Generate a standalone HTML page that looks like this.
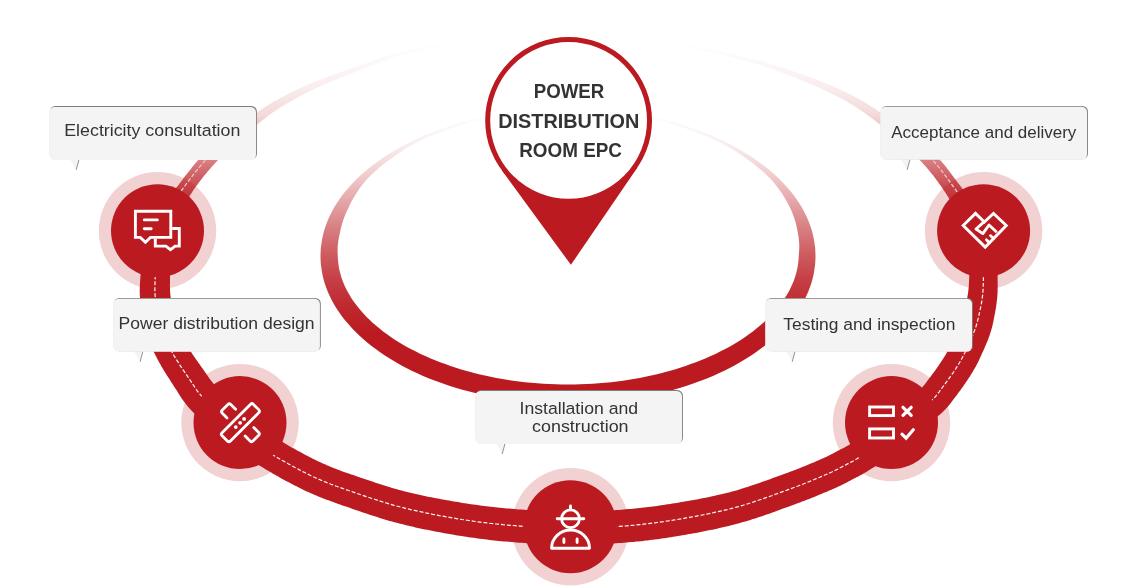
<!DOCTYPE html>
<html lang="en"><head><meta charset="utf-8"><title>Power Distribution Room EPC</title>
<style>html,body{margin:0;padding:0;background:#fff;overflow:hidden}</style></head>
<body>
<svg width="1139" height="587" viewBox="0 0 1139 587" style="display:block;will-change:transform;font-family:'Liberation Sans',sans-serif">
<defs>
<linearGradient id="gi" gradientUnits="userSpaceOnUse" x1="0" y1="110" x2="0" y2="335"><stop offset="0.000" stop-color="#BA1A20" stop-opacity="0"/><stop offset="0.111" stop-color="#BA1A20" stop-opacity="0.05"/><stop offset="0.178" stop-color="#BA1A20" stop-opacity="0.1"/><stop offset="0.289" stop-color="#BA1A20" stop-opacity="0.22"/><stop offset="0.400" stop-color="#BA1A20" stop-opacity="0.38"/><stop offset="0.511" stop-color="#BA1A20" stop-opacity="0.54"/><stop offset="0.631" stop-color="#BA1A20" stop-opacity="0.7"/><stop offset="0.756" stop-color="#BA1A20" stop-opacity="0.84"/><stop offset="0.867" stop-color="#BA1A20" stop-opacity="0.93"/><stop offset="1.000" stop-color="#BA1A20" stop-opacity="1.0"/></linearGradient>
<linearGradient id="gl" gradientUnits="userSpaceOnUse" x1="0" y1="42" x2="0" y2="225"><stop offset="0" stop-color="#BA1A20" stop-opacity="0"/><stop offset="0.12" stop-color="#BA1A20" stop-opacity="0.035"/><stop offset="0.25" stop-color="#BA1A20" stop-opacity="0.08"/><stop offset="0.4" stop-color="#BA1A20" stop-opacity="0.17"/><stop offset="0.6" stop-color="#BA1A20" stop-opacity="0.48"/><stop offset="0.8" stop-color="#BA1A20" stop-opacity="0.8"/><stop offset="1" stop-color="#BA1A20" stop-opacity="1"/></linearGradient>
<linearGradient id="gr" gradientUnits="userSpaceOnUse" x1="0" y1="42" x2="0" y2="225"><stop offset="0" stop-color="#BA1A20" stop-opacity="0"/><stop offset="0.12" stop-color="#BA1A20" stop-opacity="0.035"/><stop offset="0.25" stop-color="#BA1A20" stop-opacity="0.08"/><stop offset="0.4" stop-color="#BA1A20" stop-opacity="0.17"/><stop offset="0.6" stop-color="#BA1A20" stop-opacity="0.48"/><stop offset="0.8" stop-color="#BA1A20" stop-opacity="0.8"/><stop offset="1" stop-color="#BA1A20" stop-opacity="1"/></linearGradient>
<linearGradient id="gdl" gradientUnits="userSpaceOnUse" x1="0" y1="42" x2="0" y2="225"><stop offset="0" stop-color="#fff" stop-opacity="0"/><stop offset="0.12" stop-color="#fff" stop-opacity="0.035"/><stop offset="0.25" stop-color="#fff" stop-opacity="0.08"/><stop offset="0.4" stop-color="#fff" stop-opacity="0.17"/><stop offset="0.6" stop-color="#fff" stop-opacity="0.48"/><stop offset="0.8" stop-color="#fff" stop-opacity="0.8"/><stop offset="1" stop-color="#fff" stop-opacity="1"/></linearGradient>
</defs>
<rect width="1139" height="587" fill="#fff"/>
<path d="M815.5,256.0 L815.4,259.9 L815.2,263.7 L814.7,267.6 L814.1,271.5 L813.4,275.3 L812.5,279.1 L811.4,283.0 L810.1,286.8 L808.7,290.5 L807.1,294.3 L805.3,298.0 L803.4,301.7 L801.3,305.4 L799.1,309.0 L796.7,312.6 L794.1,316.2 L791.4,319.7 L788.5,323.1 L785.5,326.6 L782.3,329.9 L779.0,333.3 L775.6,336.6 L772.0,339.8 L768.2,342.9 L764.4,346.0 L760.3,349.1 L756.2,352.1 L751.9,355.0 L747.5,357.8 L743.0,360.6 L738.4,363.3 L733.6,365.9 L728.7,368.5 L723.8,370.9 L718.7,373.3 L713.5,375.7 L708.2,377.9 L702.8,380.0 L697.3,382.1 L691.8,384.1 L686.1,386.0 L680.4,387.8 L674.6,389.5 L668.7,391.1 L662.7,392.6 L656.7,394.1 L650.6,395.4 L644.5,396.7 L638.3,397.8 L632.1,398.9 L625.8,399.8 L619.5,400.7 L613.1,401.4 L606.7,402.1 L600.3,402.6 L593.9,403.1 L587.4,403.4 L581.0,403.7 L574.5,403.8 L568.0,403.9 L561.5,403.8 L555.0,403.7 L548.6,403.4 L542.1,403.1 L535.7,402.6 L529.3,402.1 L522.9,401.4 L516.5,400.7 L510.2,399.8 L503.9,398.9 L497.7,397.8 L491.5,396.7 L485.4,395.4 L479.3,394.1 L473.3,392.6 L467.3,391.1 L461.4,389.5 L455.6,387.8 L449.9,386.0 L444.3,384.1 L438.7,382.1 L433.2,380.0 L427.8,377.9 L422.5,375.7 L417.3,373.3 L412.2,370.9 L407.3,368.5 L402.4,365.9 L397.6,363.3 L393.0,360.6 L388.5,357.8 L384.1,355.0 L379.8,352.1 L375.7,349.1 L371.6,346.0 L367.8,342.9 L364.0,339.8 L360.4,336.6 L357.0,333.3 L353.7,329.9 L350.5,326.6 L347.5,323.1 L344.6,319.7 L341.9,316.2 L339.3,312.6 L336.9,309.0 L334.7,305.4 L332.6,301.7 L330.7,298.0 L328.9,294.3 L327.3,290.5 L325.9,286.8 L324.6,283.0 L323.5,279.1 L322.6,275.3 L321.9,271.5 L321.3,267.6 L320.8,263.7 L320.6,259.9 L320.5,256.0 L320.6,252.1 L320.8,248.3 L321.3,244.4 L321.9,240.5 L322.6,236.7 L323.5,232.9 L324.6,229.0 L325.9,225.2 L327.3,221.5 L328.9,217.7 L330.7,214.0 L332.6,210.3 L334.7,206.6 L336.9,203.0 L339.3,199.4 L341.9,195.8 L344.6,192.3 L347.5,188.9 L350.5,185.4 L353.7,182.1 L357.0,178.7 L360.4,175.4 L364.0,172.2 L367.8,169.1 L371.6,166.0 L375.7,162.9 L379.8,159.9 L384.1,157.0 L388.5,154.2 L393.0,151.4 L397.6,148.7 L402.4,146.1 L407.3,143.5 L412.2,141.1 L417.3,138.7 L422.5,136.3 L427.8,134.1 L433.2,132.0 L438.7,129.9 L444.2,127.9 L449.9,126.0 L455.6,124.2 L461.4,122.5 L467.3,120.9 L473.3,119.4 L479.3,117.9 L485.4,116.6 L491.5,115.3 L497.7,114.2 L503.9,113.1 L510.2,112.2 L516.5,111.3 L522.9,110.6 L529.3,109.9 L535.7,109.4 L542.1,108.9 L548.6,108.6 L555.0,108.3 L561.5,108.2 L568.0,108.1 L574.5,108.2 L581.0,108.3 L587.4,108.6 L593.9,108.9 L600.3,109.4 L606.7,109.9 L613.1,110.6 L619.5,111.3 L625.8,112.2 L632.1,113.1 L638.3,114.2 L644.5,115.3 L650.6,116.6 L656.7,117.9 L662.7,119.4 L668.7,120.9 L674.6,122.5 L680.4,124.2 L686.1,126.0 L691.8,127.9 L697.3,129.9 L702.8,132.0 L708.2,134.1 L713.5,136.3 L718.7,138.7 L723.8,141.1 L728.7,143.5 L733.6,146.1 L738.4,148.7 L743.0,151.4 L747.5,154.2 L751.9,157.0 L756.2,159.9 L760.3,162.9 L764.4,166.0 L768.2,169.1 L772.0,172.2 L775.6,175.4 L779.0,178.7 L782.3,182.1 L785.5,185.4 L788.5,188.9 L791.4,192.3 L794.1,195.8 L796.7,199.4 L799.1,203.0 L801.3,206.6 L803.4,210.3 L805.3,214.0 L807.1,217.7 L808.7,221.5 L810.1,225.2 L811.4,229.0 L812.5,232.9 L813.4,236.7 L814.1,240.5 L814.7,244.4 L815.2,248.3 L815.4,252.1Z M799.0,252.8 L799.2,249.7 L799.3,246.4 L799.2,243.2 L798.9,239.9 L798.5,236.6 L797.9,233.2 L797.3,229.8 L796.6,226.3 L795.7,222.8 L794.6,219.3 L793.4,215.7 L792.0,212.1 L790.4,208.5 L788.7,204.9 L786.7,201.3 L784.6,197.7 L782.4,194.1 L779.9,190.5 L777.3,186.9 L774.5,183.4 L771.5,179.8 L768.2,176.5 L764.8,173.3 L761.1,170.1 L757.4,166.9 L753.5,163.8 L749.4,160.8 L745.3,157.8 L741.0,154.9 L736.5,152.0 L731.9,149.2 L727.2,146.5 L722.4,143.8 L717.5,141.3 L712.4,138.9 L707.2,136.6 L701.8,134.4 L696.4,132.3 L690.9,130.3 L685.3,128.3 L679.7,126.5 L673.9,124.7 L668.1,123.0 L662.2,121.4 L656.2,119.9 L650.2,118.5 L644.1,117.3 L638.0,116.1 L631.8,115.0 L625.5,114.0 L619.2,113.2 L612.9,112.4 L606.5,111.7 L600.2,111.1 L593.8,110.6 L587.3,110.2 L580.9,110.0 L574.5,109.8 L568.0,109.7 L561.5,109.8 L555.1,110.0 L548.7,110.2 L542.2,110.6 L535.8,111.1 L529.5,111.7 L523.1,112.4 L516.8,113.2 L510.5,114.0 L504.2,115.0 L498.0,116.1 L491.9,117.3 L485.8,118.5 L479.8,119.9 L473.8,121.5 L467.9,123.1 L462.1,124.8 L456.4,126.6 L450.7,128.5 L445.1,130.4 L439.6,132.5 L434.2,134.6 L428.9,136.8 L423.7,139.1 L418.6,141.5 L413.7,144.1 L408.9,146.8 L404.3,149.6 L399.8,152.5 L395.4,155.5 L391.2,158.5 L387.0,161.5 L383.1,164.6 L379.2,167.8 L375.6,171.0 L372.0,174.2 L368.6,177.5 L365.4,180.9 L362.5,184.4 L359.9,188.1 L357.4,191.7 L355.1,195.3 L352.9,199.0 L350.9,202.6 L349.2,206.2 L347.5,209.8 L345.9,213.3 L344.5,216.7 L343.2,220.2 L342.1,223.6 L341.2,227.0 L340.4,230.4 L339.7,233.7 L339.0,237.0 L338.4,240.2 L338.0,243.4 L337.7,246.6 L337.6,249.7 L337.6,252.9 L337.8,256.0 L337.9,259.1 L338.2,262.2 L338.6,265.3 L339.1,268.4 L339.8,271.5 L340.6,274.6 L341.5,277.7 L342.6,280.8 L343.9,283.9 L345.2,287.0 L346.7,290.1 L348.4,293.1 L350.2,296.2 L352.1,299.2 L354.2,302.3 L356.5,305.3 L358.9,308.3 L361.4,311.3 L364.1,314.2 L366.9,317.2 L369.8,320.1 L372.9,323.0 L376.2,325.8 L379.6,328.6 L383.1,331.4 L386.7,334.1 L390.5,336.7 L394.4,339.4 L398.5,341.9 L402.6,344.4 L406.9,346.9 L411.3,349.3 L415.9,351.6 L420.5,353.9 L425.3,356.1 L430.1,358.2 L435.1,360.2 L440.1,362.2 L445.3,364.1 L450.5,365.9 L455.8,367.7 L461.2,369.4 L466.7,371.0 L472.3,372.5 L477.9,374.0 L483.6,375.3 L489.4,376.6 L495.2,377.7 L501.1,378.8 L507.0,379.8 L513.0,380.7 L519.0,381.5 L525.0,382.2 L531.1,382.8 L537.2,383.3 L543.3,383.8 L549.5,384.1 L555.7,384.3 L561.8,384.5 L568.0,384.5 L574.2,384.5 L580.3,384.3 L586.5,384.1 L592.7,383.8 L598.8,383.3 L604.9,382.8 L611.0,382.2 L617.0,381.5 L623.0,380.7 L629.0,379.8 L634.9,378.8 L640.8,377.7 L646.6,376.6 L652.4,375.3 L658.1,374.0 L663.7,372.5 L669.3,371.0 L674.8,369.4 L680.2,367.7 L685.5,365.9 L690.7,364.1 L695.9,362.2 L700.9,360.2 L705.9,358.2 L710.7,356.1 L715.5,353.9 L720.1,351.6 L724.7,349.3 L729.1,346.9 L733.4,344.4 L737.5,341.9 L741.6,339.4 L745.5,336.7 L749.3,334.1 L752.9,331.4 L756.4,328.6 L759.8,325.8 L763.1,323.0 L766.2,320.1 L769.1,317.2 L771.9,314.3 L774.6,311.3 L777.2,308.3 L779.6,305.4 L781.9,302.3 L784.0,299.3 L786.0,296.3 L787.8,293.2 L789.5,290.2 L791.0,287.1 L792.4,284.0 L793.7,280.9 L794.8,277.8 L795.7,274.7 L796.6,271.6 L797.3,268.5 L797.8,265.4 L798.3,262.3 L798.6,259.1 L798.7,256.0Z" fill="url(#gi)" fill-rule="evenodd"/>
<circle cx="157.5" cy="230.7" r="58.7" fill="#BA1A20" fill-opacity="0.2"/>
<circle cx="240.0" cy="422.6" r="58.7" fill="#BA1A20" fill-opacity="0.2"/>
<circle cx="570.4" cy="526.7" r="58.7" fill="#BA1A20" fill-opacity="0.2"/>
<circle cx="891.5" cy="422.6" r="58.7" fill="#BA1A20" fill-opacity="0.2"/>
<circle cx="983.6" cy="230.7" r="58.7" fill="#BA1A20" fill-opacity="0.2"/>
<path d="M486.5,39.2 L485.9,39.3 L485.3,39.3 L484.7,39.4 L484.1,39.5 L483.6,39.5 L483.0,39.6 L482.5,39.6 L482.0,39.7 L481.5,39.7 L480.9,39.8 L480.4,39.9 L479.8,39.9 L479.3,40.0 L478.7,40.0 L478.1,40.1 L477.4,40.2 L476.7,40.2 L476.0,40.3 L475.2,40.4 L474.4,40.5 L473.5,40.6 L472.6,40.7 L471.6,40.8 L470.5,41.0 L469.4,41.1 L468.2,41.2 L466.9,41.4 L465.6,41.5 L464.2,41.7 L462.8,41.8 L461.3,42.0 L459.8,42.1 L458.2,42.3 L456.6,42.5 L455.0,42.6 L453.3,42.8 L451.7,43.0 L450.0,43.2 L448.3,43.4 L446.6,43.6 L445.0,43.8 L443.3,44.0 L441.6,44.2 L439.9,44.5 L438.3,44.7 L436.7,44.9 L435.1,45.2 L433.5,45.4 L432.0,45.7 L430.4,45.9 L428.9,46.2 L427.4,46.4 L425.8,46.7 L424.3,46.9 L422.8,47.2 L421.2,47.5 L419.7,47.8 L418.2,48.0 L416.6,48.3 L415.1,48.6 L413.5,48.9 L412.0,49.2 L410.5,49.6 L408.9,49.9 L407.4,50.2 L405.8,50.6 L404.3,50.9 L402.7,51.3 L401.1,51.7 L399.6,52.1 L398.0,52.5 L396.4,52.9 L394.9,53.4 L393.2,53.8 L391.6,54.3 L390.0,54.8 L388.3,55.3 L386.7,55.9 L385.0,56.4 L383.4,57.0 L381.7,57.6 L380.0,58.1 L378.4,58.7 L376.7,59.3 L375.1,59.9 L373.4,60.5 L371.8,61.1 L370.2,61.7 L368.6,62.2 L367.1,62.8 L365.5,63.4 L364.0,63.9 L362.5,64.4 L361.1,65.0 L359.7,65.5 L358.3,65.9 L357.0,66.4 L355.7,66.9 L354.4,67.3 L353.1,67.7 L351.9,68.2 L350.7,68.6 L349.5,69.0 L348.4,69.4 L347.2,69.8 L346.1,70.2 L345.0,70.5 L343.9,70.9 L342.8,71.3 L341.7,71.7 L340.7,72.1 L339.6,72.5 L338.5,72.8 L337.4,73.2 L336.3,73.6 L335.2,74.0 L334.1,74.4 L333.0,74.8 L331.9,75.3 L330.8,75.7 L329.6,76.1 L328.5,76.6 L327.3,77.0 L326.2,77.4 L325.0,77.9 L323.9,78.3 L322.7,78.7 L321.6,79.2 L320.4,79.6 L319.3,80.1 L318.1,80.5 L316.9,80.9 L315.8,81.4 L314.6,81.9 L313.5,82.3 L312.3,82.8 L311.1,83.3 L310.0,83.8 L308.8,84.2 L307.7,84.7 L306.5,85.2 L305.3,85.7 L304.2,86.3 L303.0,86.8 L301.8,87.3 L300.7,87.9 L299.5,88.4 L298.3,89.0 L297.1,89.6 L295.9,90.1 L294.7,90.7 L293.5,91.3 L292.3,91.9 L291.1,92.5 L289.9,93.1 L288.7,93.7 L287.5,94.3 L286.3,95.0 L285.1,95.6 L284.0,96.2 L282.8,96.8 L281.7,97.4 L280.6,98.0 L279.5,98.6 L278.4,99.2 L277.3,99.8 L276.2,100.4 L275.2,101.0 L274.2,101.6 L273.2,102.1 L272.2,102.7 L271.3,103.2 L270.4,103.8 L269.5,104.3 L268.6,104.8 L267.8,105.4 L266.9,105.9 L266.1,106.4 L265.3,107.0 L264.4,107.5 L263.6,108.0 L262.8,108.6 L261.9,109.1 L261.1,109.7 L260.3,110.2 L259.4,110.8 L258.5,111.4 L257.7,112.0 L256.8,112.6 L255.8,113.2 L254.9,113.9 L253.9,114.6 L252.9,115.2 L251.9,115.9 L250.8,116.6 L249.7,117.4 L248.7,118.1 L247.5,118.9 L246.4,119.6 L245.3,120.4 L244.2,121.2 L243.0,122.0 L241.8,122.8 L240.7,123.6 L239.5,124.4 L238.3,125.3 L237.2,126.1 L236.0,126.9 L234.8,127.8 L233.7,128.6 L232.5,129.5 L231.4,130.3 L230.3,131.2 L229.1,132.0 L228.0,132.9 L226.9,133.7 L225.9,134.6 L224.8,135.4 L223.8,136.3 L222.7,137.1 L221.7,138.0 L220.6,138.8 L219.6,139.7 L218.5,140.6 L217.5,141.5 L216.4,142.3 L215.4,143.2 L214.4,144.1 L213.4,145.0 L212.3,145.9 L211.3,146.8 L210.3,147.7 L209.3,148.6 L208.3,149.5 L207.4,150.5 L206.4,151.4 L205.4,152.3 L204.5,153.3 L203.5,154.3 L202.6,155.2 L201.6,156.2 L200.7,157.2 L199.8,158.2 L198.9,159.2 L198.0,160.2 L197.1,161.2 L196.3,162.2 L195.4,163.2 L194.5,164.2 L193.7,165.3 L192.9,166.3 L192.0,167.3 L191.2,168.4 L190.4,169.4 L189.6,170.4 L188.8,171.5 L188.0,172.5 L187.2,173.5 L186.4,174.6 L185.6,175.6 L184.8,176.6 L184.0,177.6 L183.2,178.6 L182.5,179.7 L181.7,180.7 L180.9,181.7 L180.1,182.8 L179.3,183.8 L178.5,184.9 L177.6,185.9 L176.8,187.0 L176.1,188.1 L175.3,189.1 L174.5,190.2 L173.7,191.3 L172.9,192.3 L172.1,193.4 L171.4,194.4 L170.6,195.5 L169.9,196.5 L169.1,197.5 L168.4,198.6 L167.7,199.6 L167.0,200.6 L166.3,201.6 L165.6,202.5 L164.9,203.5 L164.3,204.4 L163.6,205.3 L179.3,214.5 L179.7,213.6 L180.2,212.6 L180.7,211.7 L181.2,210.7 L181.7,209.7 L182.3,208.7 L182.8,207.6 L183.4,206.6 L184.0,205.5 L184.6,204.5 L185.2,203.4 L185.8,202.3 L186.4,201.3 L187.1,200.2 L187.7,199.1 L188.4,198.0 L189.0,196.9 L189.7,195.9 L190.4,194.8 L191.1,193.7 L191.8,192.7 L192.5,191.6 L193.1,190.6 L193.8,189.6 L194.5,188.5 L195.3,187.5 L196.0,186.5 L196.7,185.5 L197.4,184.5 L198.2,183.5 L198.9,182.5 L199.7,181.5 L200.4,180.5 L201.2,179.5 L202.0,178.5 L202.8,177.5 L203.5,176.6 L204.3,175.6 L205.1,174.6 L205.9,173.7 L206.7,172.7 L207.5,171.8 L208.3,170.8 L209.1,169.9 L209.9,168.9 L210.8,168.0 L211.6,167.0 L212.4,166.1 L213.2,165.2 L214.1,164.2 L214.9,163.3 L215.8,162.4 L216.6,161.5 L217.5,160.5 L218.4,159.6 L219.2,158.7 L220.1,157.8 L221.0,156.9 L221.9,155.9 L222.8,155.0 L223.7,154.1 L224.6,153.2 L225.6,152.3 L226.5,151.4 L227.4,150.5 L228.4,149.6 L229.3,148.7 L230.2,147.8 L231.2,146.9 L232.2,146.0 L233.1,145.1 L234.1,144.2 L235.1,143.3 L236.0,142.4 L237.0,141.5 L238.0,140.6 L239.0,139.7 L240.0,138.8 L241.1,137.9 L242.1,137.0 L243.2,136.0 L244.2,135.1 L245.3,134.2 L246.4,133.3 L247.4,132.4 L248.5,131.5 L249.6,130.7 L250.6,129.8 L251.7,128.9 L252.7,128.1 L253.8,127.2 L254.8,126.4 L255.8,125.6 L256.8,124.8 L257.8,124.0 L258.8,123.2 L259.7,122.4 L260.6,121.7 L261.5,121.0 L262.4,120.3 L263.2,119.6 L264.1,119.0 L264.9,118.4 L265.7,117.7 L266.5,117.1 L267.2,116.5 L268.0,116.0 L268.7,115.4 L269.5,114.8 L270.3,114.3 L271.0,113.7 L271.8,113.2 L272.6,112.6 L273.3,112.0 L274.1,111.5 L275.0,110.9 L275.8,110.4 L276.7,109.8 L277.6,109.2 L278.5,108.6 L279.4,108.0 L280.4,107.4 L281.4,106.8 L282.4,106.2 L283.4,105.5 L284.5,104.9 L285.6,104.2 L286.6,103.6 L287.7,103.0 L288.9,102.3 L290.0,101.7 L291.1,101.0 L292.3,100.4 L293.4,99.7 L294.6,99.1 L295.7,98.4 L296.9,97.8 L298.0,97.2 L299.2,96.6 L300.3,96.0 L301.5,95.3 L302.6,94.7 L303.8,94.2 L304.9,93.6 L306.0,93.0 L307.1,92.5 L308.2,91.9 L309.3,91.4 L310.4,90.8 L311.5,90.3 L312.6,89.8 L313.8,89.2 L314.9,88.7 L316.0,88.2 L317.1,87.7 L318.2,87.2 L319.3,86.7 L320.5,86.2 L321.6,85.7 L322.7,85.2 L323.8,84.7 L325.0,84.3 L326.1,83.8 L327.2,83.3 L328.3,82.8 L329.5,82.3 L330.6,81.9 L331.7,81.4 L332.8,80.9 L334.0,80.4 L335.0,80.0 L336.1,79.5 L337.2,79.1 L338.3,78.7 L339.3,78.2 L340.4,77.8 L341.4,77.4 L342.5,77.0 L343.5,76.5 L344.6,76.1 L345.7,75.7 L346.8,75.3 L347.8,74.9 L348.9,74.5 L350.1,74.0 L351.2,73.6 L352.4,73.1 L353.6,72.7 L354.8,72.2 L356.0,71.8 L357.3,71.3 L358.6,70.8 L359.9,70.3 L361.3,69.7 L362.7,69.2 L364.1,68.6 L365.6,68.0 L367.1,67.4 L368.6,66.8 L370.1,66.2 L371.7,65.6 L373.3,64.9 L374.9,64.3 L376.5,63.7 L378.1,63.0 L379.7,62.4 L381.4,61.7 L383.0,61.1 L384.6,60.5 L386.2,59.9 L387.9,59.3 L389.5,58.7 L391.1,58.1 L392.7,57.6 L394.3,57.1 L395.8,56.6 L397.4,56.1 L398.9,55.6 L400.4,55.2 L402.0,54.7 L403.5,54.3 L405.0,53.9 L406.5,53.5 L408.0,53.1 L409.6,52.7 L411.1,52.4 L412.6,52.0 L414.1,51.6 L415.6,51.3 L417.2,51.0 L418.7,50.6 L420.2,50.3 L421.7,50.0 L423.2,49.7 L424.7,49.4 L426.3,49.1 L427.8,48.8 L429.3,48.5 L430.8,48.2 L432.4,47.9 L433.9,47.6 L435.4,47.3 L437.0,47.0 L438.6,46.7 L440.2,46.5 L441.9,46.2 L443.5,46.0 L445.2,45.7 L446.9,45.4 L448.6,45.2 L450.2,45.0 L451.9,44.7 L453.6,44.5 L455.2,44.3 L456.8,44.1 L458.4,43.9 L459.9,43.7 L461.5,43.5 L462.9,43.3 L464.4,43.1 L465.7,42.9 L467.1,42.7 L468.3,42.6 L469.5,42.4 L470.7,42.2 L471.7,42.1 L472.7,42.0 L473.7,41.8 L474.6,41.7 L475.4,41.6 L476.1,41.5 L476.9,41.4 L477.5,41.3 L478.2,41.2 L478.8,41.2 L479.4,41.1 L480.0,41.0 L480.5,40.9 L481.1,40.9 L481.6,40.8 L482.1,40.8 L482.6,40.7 L483.1,40.6 L483.7,40.6 L484.2,40.5 L484.8,40.4 L485.4,40.4 L486.0,40.3 L486.7,40.2Z" fill="url(#gl)"/>
<path d="M979.8,213.3 L979.1,212.1 L978.3,210.9 L977.5,209.7 L976.7,208.5 L975.9,207.3 L975.0,206.0 L974.1,204.8 L973.2,203.5 L972.3,202.2 L971.4,200.9 L970.4,199.6 L969.5,198.2 L968.5,196.9 L967.6,195.6 L966.6,194.3 L965.6,193.0 L964.6,191.7 L963.7,190.4 L962.7,189.1 L961.8,187.8 L960.8,186.5 L959.9,185.3 L958.9,184.1 L958.0,182.9 L957.1,181.7 L956.3,180.5 L955.4,179.4 L954.5,178.2 L953.6,177.0 L952.8,175.9 L951.9,174.7 L951.0,173.5 L950.1,172.4 L949.3,171.2 L948.4,170.1 L947.5,168.9 L946.6,167.8 L945.7,166.6 L944.8,165.5 L943.9,164.3 L942.9,163.2 L942.0,162.1 L941.0,161.0 L940.0,159.9 L939.1,158.7 L938.0,157.7 L937.0,156.6 L936.0,155.5 L934.9,154.4 L933.9,153.4 L932.8,152.3 L931.7,151.3 L930.6,150.3 L929.5,149.3 L928.3,148.3 L927.2,147.3 L926.1,146.3 L924.9,145.3 L923.8,144.4 L922.6,143.4 L921.5,142.5 L920.3,141.6 L919.2,140.7 L918.0,139.7 L916.9,138.8 L915.8,137.9 L914.6,137.1 L913.5,136.2 L912.4,135.3 L911.2,134.4 L910.1,133.6 L909.0,132.7 L907.9,131.8 L906.8,131.0 L905.7,130.1 L904.5,129.3 L903.4,128.4 L902.3,127.6 L901.2,126.8 L900.1,126.0 L898.9,125.1 L897.8,124.3 L896.7,123.5 L895.6,122.7 L894.5,121.9 L893.3,121.1 L892.2,120.4 L891.1,119.6 L890.0,118.8 L888.8,118.0 L887.7,117.2 L886.6,116.5 L885.4,115.7 L884.3,114.9 L883.1,114.2 L882.0,113.4 L880.8,112.7 L879.7,111.9 L878.5,111.2 L877.4,110.4 L876.2,109.6 L875.1,108.9 L873.9,108.1 L872.7,107.4 L871.5,106.7 L870.4,105.9 L869.2,105.2 L868.0,104.5 L866.8,103.7 L865.6,103.0 L864.5,102.3 L863.3,101.6 L862.1,100.9 L860.9,100.2 L859.7,99.5 L858.5,98.8 L857.4,98.2 L856.2,97.5 L855.0,96.9 L853.8,96.2 L852.6,95.6 L851.5,95.0 L850.3,94.4 L849.1,93.8 L847.9,93.2 L846.8,92.6 L845.6,92.1 L844.4,91.5 L843.3,90.9 L842.1,90.4 L840.9,89.9 L839.8,89.3 L838.6,88.8 L837.4,88.3 L836.3,87.8 L835.1,87.3 L834.0,86.8 L832.8,86.3 L831.7,85.8 L830.5,85.3 L829.3,84.8 L828.2,84.3 L827.0,83.8 L825.9,83.3 L824.7,82.9 L823.6,82.4 L822.4,81.9 L821.3,81.5 L820.1,81.0 L819.0,80.5 L817.8,80.1 L816.7,79.7 L815.5,79.2 L814.3,78.8 L813.2,78.3 L812.0,77.9 L810.9,77.5 L809.7,77.1 L808.6,76.7 L807.5,76.2 L806.3,75.8 L805.2,75.4 L804.0,75.0 L802.9,74.6 L801.7,74.2 L800.6,73.8 L799.4,73.4 L798.3,73.0 L797.1,72.6 L796.0,72.2 L794.9,71.8 L793.7,71.4 L792.6,71.0 L791.5,70.6 L790.3,70.2 L789.2,69.8 L788.1,69.4 L786.9,69.0 L785.8,68.6 L784.7,68.2 L783.5,67.9 L782.4,67.5 L781.3,67.1 L780.1,66.7 L779.0,66.4 L777.8,66.0 L776.6,65.6 L775.5,65.3 L774.3,64.9 L773.1,64.5 L771.9,64.2 L770.7,63.8 L769.5,63.5 L768.3,63.1 L767.1,62.8 L765.9,62.4 L764.7,62.1 L763.5,61.7 L762.3,61.4 L761.1,61.0 L759.8,60.7 L758.6,60.4 L757.4,60.1 L756.2,59.7 L754.9,59.4 L753.7,59.1 L752.4,58.7 L751.1,58.4 L749.8,58.1 L748.5,57.8 L747.2,57.5 L745.9,57.1 L744.5,56.8 L743.2,56.5 L741.8,56.2 L740.4,55.8 L739.0,55.5 L737.5,55.2 L736.1,54.9 L734.6,54.6 L733.1,54.2 L731.6,53.9 L730.0,53.6 L728.5,53.3 L726.9,53.0 L725.3,52.7 L723.8,52.4 L722.2,52.0 L720.6,51.7 L719.0,51.4 L717.4,51.1 L715.8,50.8 L714.2,50.5 L712.6,50.2 L711.0,49.9 L709.4,49.6 L707.9,49.3 L706.3,49.0 L704.8,48.7 L703.2,48.4 L701.7,48.1 L700.1,47.8 L698.5,47.4 L696.9,47.1 L695.3,46.8 L693.7,46.5 L692.1,46.1 L690.4,45.8 L688.8,45.5 L687.2,45.2 L685.5,44.8 L683.9,44.5 L682.3,44.2 L680.8,43.9 L679.2,43.6 L677.7,43.3 L676.2,43.0 L674.8,42.7 L673.4,42.5 L672.0,42.2 L670.7,42.0 L669.5,41.8 L668.3,41.6 L667.1,41.4 L666.0,41.2 L665.0,41.0 L664.1,40.9 L663.2,40.8 L662.3,40.6 L661.5,40.5 L660.7,40.4 L660.0,40.4 L659.3,40.3 L658.6,40.2 L658.0,40.2 L657.4,40.1 L656.8,40.1 L656.2,40.0 L655.6,40.0 L655.0,39.9 L654.4,39.9 L653.8,39.8 L653.3,39.8 L652.7,39.8 L652.0,39.7 L651.4,39.6 L650.7,39.6 L650.1,39.5 L649.9,40.5 L650.6,40.6 L651.3,40.7 L651.9,40.7 L652.6,40.8 L653.2,40.8 L653.8,40.9 L654.3,40.9 L654.9,41.0 L655.5,41.0 L656.1,41.1 L656.7,41.2 L657.3,41.2 L657.9,41.3 L658.5,41.3 L659.2,41.4 L659.9,41.5 L660.6,41.6 L661.3,41.7 L662.1,41.8 L663.0,41.9 L663.9,42.1 L664.8,42.3 L665.8,42.4 L666.9,42.6 L668.0,42.9 L669.2,43.1 L670.5,43.4 L671.8,43.6 L673.1,43.9 L674.5,44.2 L675.9,44.5 L677.4,44.8 L678.9,45.2 L680.4,45.5 L682.0,45.9 L683.6,46.2 L685.2,46.6 L686.8,47.0 L688.4,47.3 L690.0,47.7 L691.6,48.1 L693.3,48.5 L694.9,48.8 L696.5,49.2 L698.1,49.6 L699.7,49.9 L701.2,50.3 L702.8,50.6 L704.3,51.0 L705.8,51.3 L707.4,51.7 L708.9,52.0 L710.5,52.4 L712.1,52.7 L713.7,53.1 L715.2,53.4 L716.8,53.8 L718.4,54.1 L720.0,54.5 L721.6,54.8 L723.2,55.2 L724.7,55.5 L726.3,55.9 L727.8,56.3 L729.4,56.6 L730.9,57.0 L732.4,57.3 L733.9,57.7 L735.3,58.1 L736.8,58.4 L738.2,58.8 L739.6,59.2 L741.0,59.5 L742.3,59.9 L743.7,60.2 L745.0,60.6 L746.3,61.0 L747.6,61.4 L748.9,61.7 L750.1,62.1 L751.4,62.5 L752.6,62.8 L753.8,63.2 L755.1,63.6 L756.3,64.0 L757.5,64.3 L758.7,64.7 L759.9,65.1 L761.0,65.5 L762.2,65.8 L763.4,66.2 L764.6,66.6 L765.8,67.0 L766.9,67.4 L768.1,67.8 L769.3,68.2 L770.5,68.6 L771.6,69.0 L772.8,69.4 L774.0,69.8 L775.1,70.2 L776.2,70.6 L777.4,71.0 L778.5,71.4 L779.6,71.8 L780.7,72.2 L781.9,72.6 L783.0,73.1 L784.1,73.5 L785.2,73.9 L786.3,74.3 L787.4,74.7 L788.5,75.2 L789.6,75.6 L790.7,76.0 L791.8,76.5 L793.0,76.9 L794.1,77.3 L795.2,77.8 L796.3,78.2 L797.4,78.7 L798.6,79.1 L799.7,79.6 L800.8,80.0 L801.9,80.5 L803.0,80.9 L804.2,81.4 L805.3,81.9 L806.4,82.3 L807.5,82.8 L808.6,83.2 L809.8,83.7 L810.9,84.2 L812.0,84.7 L813.1,85.1 L814.2,85.6 L815.3,86.1 L816.4,86.6 L817.5,87.1 L818.7,87.6 L819.8,88.1 L820.9,88.6 L822.0,89.1 L823.1,89.7 L824.2,90.2 L825.3,90.7 L826.5,91.2 L827.6,91.8 L828.7,92.3 L829.8,92.8 L830.9,93.4 L832.1,93.9 L833.2,94.5 L834.3,95.0 L835.4,95.6 L836.5,96.1 L837.6,96.7 L838.7,97.2 L839.9,97.8 L841.0,98.4 L842.1,99.0 L843.2,99.6 L844.3,100.2 L845.4,100.8 L846.5,101.4 L847.6,102.1 L848.7,102.7 L849.8,103.4 L850.9,104.0 L852.0,104.7 L853.1,105.4 L854.2,106.1 L855.3,106.8 L856.4,107.5 L857.5,108.3 L858.6,109.0 L859.7,109.7 L860.8,110.5 L862.0,111.2 L863.1,112.0 L864.2,112.8 L865.3,113.6 L866.4,114.3 L867.5,115.1 L868.6,115.9 L869.7,116.7 L870.8,117.5 L871.9,118.3 L873.0,119.1 L874.1,120.0 L875.1,120.8 L876.2,121.6 L877.3,122.4 L878.3,123.2 L879.4,124.0 L880.4,124.9 L881.5,125.7 L882.5,126.5 L883.6,127.4 L884.6,128.2 L885.7,129.0 L886.7,129.9 L887.7,130.7 L888.7,131.6 L889.8,132.5 L890.8,133.3 L891.8,134.2 L892.8,135.1 L893.8,136.0 L894.9,136.8 L895.9,137.7 L896.9,138.6 L897.9,139.5 L898.9,140.5 L900.0,141.4 L901.0,142.3 L902.0,143.2 L903.1,144.2 L904.1,145.1 L905.2,146.1 L906.2,147.0 L907.3,148.0 L908.3,149.0 L909.3,149.9 L910.4,150.9 L911.4,151.9 L912.4,152.8 L913.5,153.8 L914.5,154.8 L915.5,155.8 L916.5,156.7 L917.5,157.7 L918.5,158.7 L919.4,159.7 L920.4,160.7 L921.4,161.7 L922.3,162.7 L923.2,163.7 L924.1,164.7 L925.0,165.7 L925.9,166.7 L926.8,167.7 L927.6,168.8 L928.5,169.8 L929.4,170.8 L930.2,171.9 L931.1,172.9 L931.9,174.0 L932.8,175.0 L933.6,176.1 L934.4,177.2 L935.3,178.3 L936.1,179.4 L936.9,180.5 L937.7,181.6 L938.5,182.7 L939.3,183.9 L940.2,185.0 L941.0,186.2 L941.8,187.3 L942.6,188.5 L943.4,189.7 L944.2,190.9 L945.0,192.1 L945.8,193.3 L946.6,194.6 L947.4,195.9 L948.2,197.1 L949.0,198.5 L949.8,199.8 L950.6,201.1 L951.4,202.5 L952.2,203.8 L953.0,205.2 L953.8,206.5 L954.6,207.9 L955.3,209.2 L956.1,210.6 L956.8,211.9 L957.5,213.2 L958.2,214.5 L958.9,215.8 L959.5,217.0 L960.1,218.2 L960.7,219.4 L961.2,220.5 L961.7,221.6 L962.2,222.7Z" fill="url(#gr)"/>
<path d="M150.8,226.3 L150.5,227.2 L150.2,228.0 L149.8,228.9 L149.5,229.8 L149.1,230.7 L148.8,231.6 L148.4,232.5 L148.0,233.4 L147.7,234.4 L147.3,235.3 L146.9,236.3 L146.5,237.2 L146.2,238.2 L145.8,239.2 L145.4,240.2 L145.1,241.2 L144.7,242.3 L144.4,243.3 L144.1,244.4 L143.7,245.5 L143.4,246.6 L143.2,247.7 L142.9,248.8 L142.6,250.0 L142.4,251.1 L142.2,252.2 L142.0,253.4 L141.9,254.5 L141.7,255.6 L141.6,256.7 L141.5,257.7 L141.4,258.8 L141.3,259.9 L141.2,260.9 L141.1,262.0 L141.1,263.0 L141.0,264.1 L141.0,265.1 L140.9,266.1 L140.9,267.1 L140.8,268.1 L140.8,269.0 L140.8,270.0 L140.7,270.9 L140.7,271.9 L140.6,272.8 L140.6,273.7 L140.6,274.6 L140.5,275.5 L140.4,276.3 L140.4,277.2 L140.3,278.1 L140.3,279.0 L140.2,279.9 L140.1,280.8 L140.1,281.7 L140.0,282.6 L140.0,283.6 L139.9,284.5 L139.9,285.5 L139.8,286.5 L139.8,287.5 L139.8,288.6 L139.7,289.6 L139.7,290.7 L139.7,291.8 L139.8,293.0 L139.8,294.1 L139.8,295.3 L139.9,296.5 L140.0,297.7 L140.1,298.9 L140.2,300.1 L140.3,301.3 L140.4,302.5 L140.5,303.7 L140.7,304.9 L140.8,306.2 L140.9,307.4 L141.1,308.7 L141.3,310.1 L141.5,311.4 L141.7,312.7 L141.9,314.1 L142.1,315.4 L142.3,316.8 L142.6,318.2 L142.8,319.5 L143.1,320.9 L143.4,322.3 L143.7,323.7 L144.0,325.1 L144.3,326.5 L144.7,327.8 L145.0,329.2 L145.4,330.6 L145.8,331.9 L146.2,333.2 L146.6,334.5 L147.1,335.8 L147.5,337.0 L148.0,338.3 L148.4,339.5 L148.9,340.8 L149.4,342.0 L149.9,343.2 L150.4,344.5 L150.9,345.7 L151.5,346.9 L152.0,348.1 L152.6,349.3 L153.1,350.5 L153.7,351.7 L154.3,352.9 L154.9,354.1 L155.5,355.2 L156.1,356.4 L156.7,357.6 L157.3,358.9 L158.0,360.1 L158.7,361.4 L159.4,362.8 L160.2,364.1 L161.0,365.5 L161.8,366.9 L162.6,368.3 L163.4,369.7 L164.3,371.0 L165.1,372.4 L166.0,373.8 L166.8,375.2 L167.7,376.5 L168.5,377.8 L169.4,379.1 L170.2,380.4 L171.0,381.7 L171.8,382.9 L172.6,384.1 L173.3,385.3 L174.0,386.4 L174.7,387.4 L175.4,388.5 L176.0,389.4 L176.6,390.3 L177.1,391.1 L177.6,391.9 L178.1,392.7 L178.5,393.4 L178.9,394.1 L179.4,394.7 L179.8,395.4 L180.1,396.0 L180.5,396.6 L180.9,397.2 L181.3,397.8 L181.7,398.5 L182.2,399.1 L182.6,399.7 L183.0,400.3 L183.5,401.0 L184.0,401.6 L184.5,402.3 L185.0,402.9 L185.5,403.6 L186.0,404.3 L186.6,405.0 L187.2,405.7 L187.8,406.4 L188.5,407.2 L189.1,407.9 L189.8,408.7 L190.5,409.4 L191.2,410.2 L191.9,410.9 L192.6,411.7 L193.4,412.5 L194.1,413.2 L194.9,414.0 L195.6,414.8 L196.4,415.6 L197.2,416.3 L197.9,417.1 L198.7,417.9 L199.5,418.6 L200.3,419.4 L201.1,420.1 L201.9,420.9 L202.8,421.6 L203.6,422.4 L204.4,423.1 L205.2,423.8 L206.0,424.5 L206.9,425.3 L207.8,426.0 L208.7,426.7 L209.6,427.4 L210.5,428.1 L211.3,428.8 L212.2,429.5 L213.1,430.1 L213.9,430.7 L214.7,431.3 L215.6,431.9 L216.4,432.5 L217.2,433.1 L218.0,433.6 L218.8,434.2 L219.6,434.8 L220.3,435.3 L221.1,435.8 L221.8,436.4 L222.5,436.9 L223.2,437.4 L223.9,438.0 L224.6,438.5 L225.3,439.0 L225.9,439.5 L226.6,440.1 L227.3,440.7 L228.0,441.2 L228.7,441.8 L229.4,442.5 L230.1,443.1 L230.8,443.7 L231.5,444.4 L232.3,445.1 L233.0,445.8 L233.8,446.4 L234.6,447.1 L235.4,447.9 L236.2,448.6 L237.0,449.3 L237.8,450.0 L238.7,450.7 L239.5,451.5 L240.4,452.2 L241.3,452.9 L242.2,453.7 L243.1,454.4 L244.0,455.1 L245.0,455.8 L245.8,456.4 L246.7,457.1 L247.6,457.7 L248.5,458.3 L249.4,458.9 L250.2,459.5 L251.1,460.1 L252.0,460.7 L252.9,461.3 L253.7,461.9 L254.6,462.4 L255.5,463.0 L256.4,463.5 L257.2,464.1 L258.1,464.6 L259.0,465.2 L259.8,465.7 L260.7,466.2 L261.5,466.8 L262.4,467.3 L263.3,467.8 L264.1,468.3 L265.0,468.9 L265.9,469.4 L266.8,470.0 L267.7,470.5 L268.6,471.0 L269.5,471.6 L270.4,472.1 L271.3,472.6 L272.2,473.2 L273.1,473.7 L274.1,474.2 L275.0,474.8 L275.9,475.3 L276.8,475.8 L277.7,476.3 L278.7,476.8 L279.6,477.4 L280.5,477.9 L281.4,478.4 L282.3,478.9 L283.3,479.4 L284.2,479.9 L285.1,480.4 L286.0,480.9 L286.9,481.4 L287.8,481.8 L288.7,482.3 L289.6,482.8 L290.5,483.3 L291.4,483.7 L292.3,484.2 L293.2,484.7 L294.2,485.2 L295.1,485.7 L296.0,486.1 L296.9,486.6 L297.9,487.1 L298.8,487.6 L299.8,488.0 L300.7,488.5 L301.7,489.0 L302.7,489.5 L303.6,489.9 L304.6,490.4 L305.7,490.9 L306.7,491.4 L307.7,491.8 L308.8,492.3 L309.8,492.8 L310.8,493.2 L311.7,493.6 L312.7,494.0 L313.6,494.4 L314.5,494.8 L315.4,495.2 L316.3,495.6 L317.2,496.0 L318.2,496.4 L319.1,496.8 L320.1,497.2 L321.1,497.6 L322.1,498.0 L323.1,498.4 L324.2,498.8 L325.4,499.2 L326.5,499.7 L327.8,500.1 L329.1,500.6 L330.4,501.1 L331.8,501.6 L333.3,502.1 L334.9,502.7 L336.5,503.3 L338.2,503.9 L340.0,504.5 L341.9,505.2 L343.9,505.9 L346.0,506.6 L348.1,507.3 L350.3,508.1 L352.6,508.9 L354.9,509.7 L357.3,510.5 L359.7,511.3 L362.1,512.2 L364.6,513.0 L367.1,513.8 L369.6,514.7 L372.1,515.5 L374.6,516.3 L377.2,517.1 L379.7,517.9 L382.2,518.7 L384.7,519.4 L387.2,520.2 L389.6,520.9 L392.1,521.5 L394.4,522.2 L396.8,522.8 L399.1,523.4 L401.5,524.0 L403.8,524.6 L406.2,525.2 L408.5,525.7 L410.8,526.3 L413.2,526.8 L415.5,527.4 L417.8,527.9 L420.2,528.4 L422.5,528.9 L424.8,529.4 L427.2,529.8 L429.5,530.3 L431.8,530.8 L434.1,531.2 L436.4,531.7 L438.7,532.1 L441.1,532.6 L443.4,533.0 L445.7,533.4 L448.0,533.8 L450.3,534.2 L452.6,534.6 L454.9,535.0 L457.2,535.4 L459.5,535.8 L461.7,536.1 L464.0,536.5 L466.3,536.8 L468.6,537.2 L470.9,537.5 L473.2,537.8 L475.4,538.1 L477.7,538.5 L480.1,538.8 L482.4,539.0 L484.7,539.3 L487.0,539.6 L489.4,539.9 L491.8,540.2 L494.2,540.4 L496.6,540.7 L499.0,540.9 L501.4,541.2 L503.9,541.4 L506.4,541.6 L508.9,541.8 L511.4,542.0 L514.0,542.3 L516.5,542.5 L519.1,542.7 L521.7,542.8 L524.3,543.0 L527.0,543.2 L529.6,543.4 L532.3,543.5 L534.9,543.7 L537.6,543.8 L540.3,544.0 L542.9,544.1 L545.6,544.2 L548.3,544.3 L551.0,544.4 L553.6,544.5 L556.3,544.6 L559.0,544.6 L561.6,544.7 L564.2,544.7 L566.9,544.7 L569.5,544.8 L572.1,544.8 L574.7,544.8 L577.4,544.7 L580.0,544.7 L582.6,544.7 L585.2,544.6 L587.8,544.5 L590.5,544.5 L593.1,544.4 L595.7,544.3 L598.3,544.2 L600.9,544.1 L603.5,544.0 L606.0,543.8 L608.6,543.7 L611.2,543.5 L613.7,543.4 L616.2,543.2 L618.7,543.1 L621.3,542.9 L623.7,542.7 L626.2,542.5 L628.7,542.3 L631.1,542.1 L633.6,541.9 L636.0,541.6 L638.4,541.4 L640.7,541.2 L643.1,540.9 L645.5,540.6 L647.8,540.4 L650.1,540.1 L652.5,539.8 L654.8,539.5 L657.1,539.2 L659.4,538.9 L661.7,538.6 L664.0,538.2 L666.3,537.9 L668.5,537.5 L670.8,537.2 L673.1,536.8 L675.4,536.5 L677.7,536.1 L680.0,535.7 L682.3,535.3 L684.6,534.9 L686.9,534.5 L689.2,534.1 L691.5,533.7 L693.8,533.3 L696.1,532.9 L698.4,532.4 L700.7,532.0 L703.0,531.5 L705.3,531.1 L707.7,530.6 L710.0,530.1 L712.3,529.7 L714.7,529.2 L717.0,528.7 L719.4,528.1 L721.7,527.6 L724.1,527.1 L726.4,526.5 L728.8,525.9 L731.1,525.3 L733.5,524.7 L735.9,524.1 L738.2,523.5 L740.6,522.8 L743.0,522.1 L745.5,521.4 L747.9,520.7 L750.4,519.9 L752.8,519.1 L755.3,518.4 L757.8,517.5 L760.2,516.7 L762.7,515.9 L765.1,515.1 L767.6,514.2 L770.0,513.4 L772.4,512.5 L774.8,511.7 L777.1,510.8 L779.4,510.0 L781.7,509.1 L783.9,508.3 L786.1,507.5 L788.3,506.7 L790.4,506.0 L792.4,505.2 L794.4,504.5 L796.3,503.8 L798.2,503.1 L800.1,502.4 L802.0,501.6 L803.9,500.9 L805.7,500.3 L807.4,499.6 L809.2,498.9 L810.9,498.2 L812.6,497.5 L814.2,496.9 L815.8,496.2 L817.4,495.6 L818.9,494.9 L820.4,494.3 L821.9,493.7 L823.3,493.1 L824.7,492.5 L826.1,491.9 L827.5,491.4 L828.8,490.8 L830.0,490.3 L831.2,489.7 L832.4,489.2 L833.6,488.7 L834.8,488.2 L835.9,487.7 L837.0,487.2 L838.0,486.8 L839.0,486.3 L839.9,485.9 L840.8,485.4 L841.7,485.0 L842.5,484.6 L843.3,484.2 L844.1,483.8 L844.8,483.4 L845.5,483.1 L846.2,482.7 L846.9,482.4 L847.5,482.0 L848.2,481.7 L848.8,481.3 L849.4,481.0 L850.0,480.7 L850.6,480.4 L851.2,480.1 L851.8,479.8 L852.4,479.5 L853.0,479.1 L853.6,478.8 L854.2,478.5 L854.8,478.2 L855.4,477.9 L856.0,477.6 L856.6,477.3 L857.2,477.0 L857.8,476.7 L858.4,476.4 L859.0,476.1 L859.6,475.7 L860.2,475.4 L860.8,475.1 L861.5,474.7 L862.1,474.4 L862.8,474.0 L863.4,473.6 L864.1,473.2 L864.8,472.8 L865.5,472.4 L866.3,472.0 L867.0,471.5 L867.8,471.0 L868.5,470.6 L869.3,470.1 L870.1,469.6 L870.9,469.1 L871.7,468.6 L872.5,468.1 L873.4,467.5 L874.2,467.0 L875.1,466.5 L875.9,465.9 L876.8,465.3 L877.7,464.8 L878.6,464.2 L879.5,463.6 L880.3,463.0 L881.2,462.4 L882.1,461.8 L883.0,461.2 L883.9,460.6 L884.8,460.0 L885.6,459.4 L886.5,458.8 L887.3,458.1 L888.2,457.5 L889.1,456.9 L889.9,456.2 L890.8,455.6 L891.6,454.9 L892.4,454.2 L893.3,453.6 L894.1,452.9 L894.9,452.2 L895.7,451.6 L896.5,450.9 L897.3,450.2 L898.1,449.6 L898.8,448.9 L899.6,448.3 L900.4,447.6 L901.2,446.9 L901.9,446.3 L902.7,445.6 L903.4,445.0 L904.2,444.4 L904.9,443.7 L905.7,443.1 L906.4,442.5 L907.1,441.9 L907.9,441.2 L908.7,440.6 L909.4,440.0 L910.2,439.3 L911.0,438.7 L911.7,438.1 L912.5,437.4 L913.3,436.8 L914.0,436.2 L914.8,435.5 L915.5,434.9 L916.3,434.3 L917.0,433.7 L917.8,433.0 L918.6,432.4 L919.3,431.8 L920.1,431.1 L920.8,430.5 L921.6,429.9 L922.3,429.2 L923.1,428.6 L923.8,428.0 L924.6,427.4 L925.3,426.7 L926.0,426.1 L926.8,425.5 L927.5,424.9 L928.3,424.3 L929.0,423.6 L929.8,423.0 L930.6,422.3 L931.4,421.7 L932.2,421.0 L933.0,420.4 L933.8,419.7 L934.6,419.0 L935.4,418.3 L936.3,417.7 L937.1,417.0 L937.8,416.3 L938.6,415.6 L939.4,414.9 L940.2,414.3 L941.0,413.6 L941.7,412.9 L942.5,412.2 L943.2,411.5 L943.9,410.8 L944.6,410.1 L945.3,409.5 L945.9,408.8 L946.5,408.1 L947.1,407.5 L947.7,406.8 L948.2,406.2 L948.7,405.6 L949.2,405.0 L949.7,404.4 L950.2,403.8 L950.6,403.2 L951.0,402.7 L951.4,402.2 L951.7,401.7 L952.1,401.2 L952.4,400.7 L952.8,400.3 L953.1,399.9 L953.4,399.5 L953.7,399.1 L954.0,398.7 L954.2,398.3 L954.6,397.9 L954.9,397.4 L955.3,396.9 L955.7,396.4 L956.1,395.9 L956.5,395.4 L956.9,394.9 L957.3,394.4 L957.7,393.8 L958.0,393.3 L958.4,392.8 L958.8,392.3 L959.2,391.8 L959.6,391.2 L960.0,390.7 L960.4,390.2 L960.8,389.7 L961.1,389.1 L961.5,388.6 L961.9,388.1 L962.3,387.5 L962.7,387.0 L963.1,386.4 L963.5,385.9 L963.8,385.3 L964.2,384.8 L964.6,384.3 L965.0,383.7 L965.3,383.2 L965.7,382.6 L966.1,382.1 L966.5,381.5 L966.8,381.0 L967.2,380.4 L967.6,379.8 L968.0,379.3 L968.3,378.7 L968.7,378.1 L969.1,377.5 L969.5,377.0 L969.9,376.4 L970.2,375.8 L970.6,375.2 L971.0,374.6 L971.3,374.0 L971.7,373.4 L972.1,372.8 L972.4,372.2 L972.8,371.7 L973.1,371.1 L973.4,370.6 L973.7,370.0 L974.0,369.5 L974.3,369.0 L974.6,368.5 L974.9,368.0 L975.2,367.5 L975.5,366.9 L975.8,366.4 L976.1,365.9 L976.4,365.3 L976.7,364.8 L977.0,364.2 L977.3,363.6 L977.6,363.1 L977.9,362.5 L978.2,361.9 L978.5,361.2 L978.8,360.6 L979.1,359.9 L979.4,359.2 L979.7,358.5 L980.1,357.8 L980.4,357.1 L980.8,356.3 L981.2,355.5 L981.5,354.6 L981.9,353.7 L982.3,352.8 L982.8,351.9 L983.2,351.0 L983.6,350.0 L984.0,349.0 L984.5,348.0 L984.9,347.0 L985.3,346.0 L985.8,345.0 L986.2,344.0 L986.6,343.0 L987.1,341.9 L987.5,340.9 L987.9,339.9 L988.3,338.9 L988.6,337.9 L989.0,336.9 L989.4,335.9 L989.7,335.0 L990.0,334.0 L990.3,333.1 L990.6,332.2 L990.9,331.3 L991.1,330.4 L991.4,329.6 L991.6,328.7 L991.9,327.9 L992.1,327.1 L992.3,326.3 L992.5,325.5 L992.6,324.7 L992.8,323.9 L993.0,323.1 L993.2,322.4 L993.3,321.6 L993.5,320.9 L993.6,320.2 L993.7,319.5 L993.9,318.8 L994.0,318.1 L994.2,317.4 L994.3,316.7 L994.4,316.0 L994.6,315.2 L994.7,314.5 L994.9,313.7 L995.0,313.0 L995.1,312.2 L995.3,311.5 L995.4,310.7 L995.5,310.0 L995.7,309.2 L995.8,308.4 L995.9,307.7 L996.1,306.9 L996.2,306.1 L996.3,305.3 L996.4,304.5 L996.5,303.7 L996.6,302.9 L996.7,302.1 L996.8,301.3 L996.9,300.5 L997.0,299.6 L997.1,298.8 L997.2,298.0 L997.3,297.1 L997.3,296.3 L997.4,295.4 L997.4,294.6 L997.5,293.7 L997.5,292.9 L997.6,292.0 L997.6,291.2 L997.6,290.3 L997.6,289.5 L997.6,288.7 L997.7,287.9 L997.7,287.0 L997.7,286.2 L997.7,285.4 L997.7,284.6 L997.7,283.8 L997.7,283.1 L997.6,282.3 L997.6,281.5 L997.6,280.8 L997.6,280.0 L997.6,279.3 L997.6,278.6 L997.6,277.9 L997.6,277.2 L997.6,276.5 L997.6,275.9 L997.6,275.3 L997.6,274.6 L997.6,274.0 L997.6,273.3 L997.6,272.7 L997.6,272.0 L997.6,271.3 L997.6,270.6 L997.6,270.0 L997.6,269.3 L997.6,268.5 L997.6,267.8 L997.5,267.1 L997.5,266.3 L997.5,265.5 L997.4,264.8 L997.3,264.0 L997.2,263.1 L997.2,262.3 L997.0,261.4 L996.9,260.6 L996.8,259.8 L996.7,258.9 L996.5,258.1 L996.4,257.2 L996.3,256.3 L996.1,255.4 L996.0,254.5 L995.8,253.5 L995.6,252.5 L995.4,251.5 L995.2,250.5 L995.0,249.5 L994.8,248.5 L994.6,247.4 L994.3,246.4 L994.1,245.3 L993.8,244.2 L993.5,243.2 L993.2,242.1 L992.9,241.0 L992.6,239.9 L992.3,238.9 L991.9,237.8 L991.6,236.7 L991.2,235.6 L990.7,234.5 L990.3,233.5 L989.9,232.4 L989.4,231.4 L988.9,230.4 L988.5,229.4 L988.0,228.4 L987.5,227.5 L987.0,226.5 L986.5,225.6 L986.0,224.7 L985.5,223.8 L985.0,222.9 L984.5,222.0 L984.0,221.1 L983.5,220.2 L983.1,219.4 L982.6,218.5 L982.1,217.7 L981.6,216.8 L981.2,216.0 L980.8,215.2 L980.3,214.4 L961.7,221.6 L962.0,222.6 L962.3,223.6 L962.5,224.7 L962.8,225.7 L963.1,226.7 L963.4,227.6 L963.7,228.6 L964.0,229.6 L964.3,230.5 L964.6,231.5 L964.8,232.4 L965.1,233.3 L965.4,234.2 L965.6,235.1 L965.9,236.0 L966.1,236.9 L966.3,237.8 L966.5,238.6 L966.7,239.4 L966.9,240.2 L967.0,241.0 L967.2,241.8 L967.3,242.6 L967.4,243.3 L967.6,244.1 L967.7,244.8 L967.8,245.6 L967.9,246.5 L968.0,247.3 L968.1,248.1 L968.1,249.0 L968.2,249.8 L968.3,250.7 L968.4,251.6 L968.4,252.4 L968.5,253.3 L968.6,254.2 L968.6,255.0 L968.7,255.9 L968.7,256.8 L968.8,257.6 L968.8,258.5 L968.9,259.3 L968.9,260.2 L968.9,261.0 L969.0,261.8 L969.0,262.6 L969.1,263.4 L969.1,264.1 L969.1,264.8 L969.2,265.4 L969.2,266.0 L969.2,266.5 L969.2,267.1 L969.3,267.6 L969.3,268.2 L969.3,268.7 L969.3,269.2 L969.3,269.7 L969.3,270.3 L969.3,270.8 L969.3,271.3 L969.3,271.9 L969.3,272.4 L969.3,273.0 L969.3,273.6 L969.3,274.2 L969.3,274.8 L969.3,275.5 L969.2,276.1 L969.2,276.8 L969.2,277.5 L969.2,278.2 L969.2,278.9 L969.1,279.6 L969.1,280.3 L969.1,281.0 L969.0,281.8 L969.0,282.5 L969.0,283.2 L968.9,283.9 L968.9,284.6 L968.8,285.3 L968.8,286.0 L968.7,286.7 L968.7,287.4 L968.6,288.1 L968.5,288.7 L968.5,289.4 L968.4,290.1 L968.3,290.7 L968.3,291.4 L968.2,292.0 L968.1,292.6 L968.0,293.3 L967.9,293.9 L967.8,294.5 L967.7,295.1 L967.6,295.7 L967.5,296.3 L967.4,296.9 L967.3,297.6 L967.2,298.2 L967.1,298.8 L966.9,299.4 L966.8,300.1 L966.7,300.7 L966.5,301.3 L966.4,302.0 L966.2,302.6 L966.1,303.2 L965.9,303.9 L965.8,304.5 L965.6,305.2 L965.4,305.9 L965.3,306.5 L965.1,307.2 L964.9,307.9 L964.8,308.5 L964.6,309.2 L964.4,309.9 L964.2,310.7 L964.0,311.3 L963.9,312.0 L963.7,312.7 L963.5,313.3 L963.4,314.0 L963.2,314.6 L963.0,315.2 L962.9,315.8 L962.7,316.4 L962.5,317.0 L962.4,317.6 L962.2,318.2 L962.0,318.7 L961.8,319.3 L961.6,319.9 L961.4,320.5 L961.2,321.1 L961.0,321.7 L960.8,322.3 L960.6,322.9 L960.3,323.6 L960.1,324.2 L959.8,324.9 L959.5,325.6 L959.2,326.4 L958.9,327.1 L958.6,327.9 L958.2,328.8 L957.8,329.6 L957.5,330.5 L957.1,331.4 L956.7,332.3 L956.3,333.2 L955.8,334.1 L955.4,335.0 L955.0,336.0 L954.6,336.9 L954.2,337.8 L953.8,338.6 L953.3,339.5 L952.9,340.3 L952.6,341.2 L952.2,342.0 L951.8,342.7 L951.5,343.5 L951.1,344.2 L950.8,344.9 L950.5,345.5 L950.2,346.1 L950.0,346.6 L949.7,347.1 L949.4,347.6 L949.2,348.1 L949.0,348.6 L948.7,349.0 L948.5,349.4 L948.3,349.9 L948.1,350.3 L947.9,350.7 L947.7,351.1 L947.5,351.5 L947.2,351.8 L947.0,352.2 L946.8,352.6 L946.6,353.1 L946.3,353.5 L946.1,353.9 L945.8,354.4 L945.5,354.9 L945.2,355.3 L945.0,355.8 L944.7,356.3 L944.4,356.7 L944.1,357.2 L943.8,357.7 L943.5,358.2 L943.2,358.6 L942.9,359.1 L942.6,359.6 L942.3,360.1 L942.0,360.6 L941.6,361.1 L941.3,361.6 L941.0,362.1 L940.6,362.6 L940.3,363.1 L940.0,363.6 L939.6,364.1 L939.3,364.6 L938.9,365.1 L938.6,365.6 L938.3,366.1 L937.9,366.6 L937.6,367.1 L937.2,367.5 L936.9,368.0 L936.6,368.5 L936.2,369.0 L935.9,369.4 L935.6,369.9 L935.2,370.4 L934.9,370.8 L934.5,371.3 L934.2,371.8 L933.9,372.2 L933.5,372.7 L933.2,373.2 L932.8,373.6 L932.5,374.1 L932.1,374.6 L931.8,375.0 L931.4,375.5 L931.1,376.0 L930.7,376.4 L930.3,376.9 L930.0,377.4 L929.6,377.8 L929.2,378.3 L928.8,378.9 L928.4,379.4 L928.0,380.0 L927.6,380.5 L927.2,381.0 L926.9,381.5 L926.6,381.9 L926.3,382.3 L926.0,382.7 L925.7,383.1 L925.4,383.5 L925.1,383.9 L924.9,384.2 L924.6,384.5 L924.3,384.9 L924.1,385.2 L923.8,385.5 L923.5,385.8 L923.2,386.1 L922.9,386.5 L922.6,386.8 L922.3,387.2 L921.9,387.6 L921.5,388.0 L921.1,388.4 L920.6,388.8 L920.1,389.3 L919.5,389.8 L919.0,390.3 L918.3,390.9 L917.7,391.4 L917.0,392.0 L916.3,392.6 L915.6,393.2 L914.9,393.8 L914.2,394.4 L913.4,395.1 L912.6,395.7 L911.9,396.3 L911.1,397.0 L910.3,397.6 L909.5,398.3 L908.7,398.9 L907.9,399.6 L907.1,400.3 L906.3,400.9 L905.5,401.6 L904.7,402.3 L903.9,402.9 L903.2,403.5 L902.5,404.1 L901.7,404.8 L901.0,405.4 L900.2,406.0 L899.5,406.6 L898.8,407.3 L898.0,407.9 L897.3,408.5 L896.6,409.1 L895.8,409.7 L895.1,410.4 L894.3,411.0 L893.6,411.6 L892.8,412.2 L892.1,412.8 L891.4,413.4 L890.6,414.1 L889.9,414.7 L889.1,415.3 L888.4,415.9 L887.6,416.5 L886.9,417.1 L886.1,417.8 L885.3,418.4 L884.5,419.0 L883.7,419.7 L882.9,420.3 L882.2,420.9 L881.4,421.5 L880.6,422.1 L879.9,422.8 L879.1,423.4 L878.3,424.0 L877.6,424.6 L876.8,425.2 L876.1,425.7 L875.3,426.3 L874.6,426.9 L873.9,427.5 L873.1,428.0 L872.4,428.6 L871.7,429.2 L870.9,429.7 L870.2,430.2 L869.5,430.8 L868.8,431.3 L868.1,431.8 L867.3,432.4 L866.6,432.9 L865.8,433.5 L865.0,434.0 L864.3,434.6 L863.5,435.2 L862.7,435.7 L861.9,436.3 L861.2,436.8 L860.4,437.4 L859.6,437.9 L858.8,438.5 L858.0,439.0 L857.3,439.5 L856.5,440.0 L855.8,440.5 L855.0,441.0 L854.3,441.5 L853.6,442.0 L852.9,442.5 L852.2,442.9 L851.5,443.3 L850.8,443.8 L850.2,444.1 L849.6,444.5 L849.1,444.8 L848.5,445.2 L848.0,445.5 L847.5,445.8 L847.0,446.1 L846.5,446.3 L846.0,446.6 L845.5,446.9 L845.0,447.1 L844.6,447.4 L844.1,447.7 L843.6,447.9 L843.0,448.2 L842.5,448.5 L842.0,448.7 L841.4,449.0 L840.8,449.3 L840.2,449.6 L839.6,449.9 L839.0,450.3 L838.3,450.6 L837.6,450.9 L836.9,451.3 L836.2,451.7 L835.6,452.0 L834.9,452.4 L834.3,452.7 L833.7,453.0 L833.1,453.4 L832.5,453.7 L831.9,454.0 L831.3,454.3 L830.7,454.6 L830.1,454.9 L829.5,455.2 L828.9,455.5 L828.3,455.8 L827.6,456.2 L826.9,456.5 L826.2,456.9 L825.4,457.2 L824.6,457.6 L823.7,458.0 L822.8,458.4 L821.8,458.8 L820.8,459.3 L819.7,459.8 L818.5,460.3 L817.3,460.8 L816.1,461.3 L814.8,461.9 L813.5,462.4 L812.2,463.0 L810.9,463.5 L809.5,464.1 L808.1,464.7 L806.7,465.3 L805.2,465.9 L803.7,466.5 L802.2,467.1 L800.6,467.8 L799.0,468.4 L797.4,469.0 L795.8,469.7 L794.1,470.3 L792.4,471.0 L790.7,471.6 L788.9,472.3 L787.1,473.0 L785.3,473.6 L783.4,474.3 L781.4,475.1 L779.3,475.8 L777.2,476.6 L775.1,477.3 L772.9,478.1 L770.7,478.9 L768.5,479.7 L766.3,480.5 L764.0,481.3 L761.7,482.1 L759.4,482.9 L757.0,483.7 L754.7,484.5 L752.4,485.3 L750.0,486.1 L747.7,486.9 L745.4,487.6 L743.1,488.3 L740.8,489.0 L738.6,489.7 L736.3,490.4 L734.2,491.0 L732.0,491.6 L729.8,492.2 L727.7,492.7 L725.5,493.3 L723.3,493.8 L721.1,494.3 L718.9,494.8 L716.8,495.3 L714.6,495.8 L712.4,496.3 L710.2,496.8 L708.0,497.2 L705.8,497.7 L703.6,498.1 L701.3,498.5 L699.1,499.0 L696.9,499.4 L694.7,499.8 L692.5,500.2 L690.2,500.6 L688.0,501.0 L685.8,501.3 L683.5,501.7 L681.3,502.1 L679.0,502.5 L676.8,502.9 L674.6,503.2 L672.4,503.6 L670.2,503.9 L668.0,504.3 L665.8,504.6 L663.6,504.9 L661.4,505.2 L659.3,505.6 L657.1,505.9 L654.9,506.2 L652.7,506.4 L650.6,506.7 L648.4,507.0 L646.2,507.3 L644.0,507.5 L641.8,507.8 L639.5,508.0 L637.3,508.3 L635.1,508.5 L632.8,508.7 L630.5,508.9 L628.2,509.1 L625.9,509.3 L623.6,509.5 L621.2,509.7 L618.8,509.9 L616.5,510.0 L614.0,510.2 L611.6,510.3 L609.2,510.5 L606.8,510.6 L604.3,510.8 L601.8,510.9 L599.4,511.0 L596.9,511.1 L594.4,511.2 L591.9,511.3 L589.5,511.4 L587.0,511.4 L584.5,511.5 L582.0,511.6 L579.5,511.6 L577.0,511.6 L574.5,511.7 L572.1,511.7 L569.6,511.7 L567.1,511.7 L564.7,511.6 L562.2,511.6 L559.7,511.5 L557.2,511.5 L554.6,511.4 L552.1,511.3 L549.5,511.2 L547.0,511.1 L544.4,511.0 L541.9,510.9 L539.3,510.8 L536.8,510.6 L534.2,510.5 L531.7,510.3 L529.1,510.2 L526.6,510.0 L524.1,509.8 L521.6,509.6 L519.1,509.4 L516.6,509.2 L514.1,509.0 L511.7,508.8 L509.3,508.6 L506.9,508.4 L504.6,508.2 L502.2,508.0 L499.9,507.8 L497.6,507.5 L495.4,507.3 L493.1,507.0 L490.9,506.8 L488.7,506.5 L486.4,506.2 L484.2,506.0 L482.0,505.7 L479.9,505.4 L477.7,505.1 L475.5,504.8 L473.3,504.5 L471.2,504.2 L469.0,503.9 L466.8,503.5 L464.6,503.2 L462.5,502.9 L460.3,502.5 L458.1,502.1 L455.8,501.8 L453.6,501.4 L451.4,501.0 L449.1,500.6 L446.9,500.2 L444.7,499.8 L442.4,499.4 L440.2,499.0 L438.0,498.6 L435.8,498.2 L433.6,497.8 L431.3,497.3 L429.1,496.9 L426.9,496.4 L424.7,496.0 L422.5,495.5 L420.3,495.0 L418.1,494.5 L415.9,494.0 L413.7,493.5 L411.5,493.0 L409.3,492.5 L407.1,492.0 L404.9,491.4 L402.7,490.8 L400.5,490.3 L398.4,489.7 L396.1,489.1 L393.9,488.4 L391.5,487.7 L389.2,487.0 L386.8,486.3 L384.4,485.5 L382.0,484.8 L379.6,484.0 L377.2,483.2 L374.8,482.4 L372.4,481.6 L370.0,480.8 L367.7,480.0 L365.3,479.3 L363.1,478.5 L360.8,477.7 L358.7,477.0 L356.6,476.2 L354.5,475.5 L352.5,474.8 L350.6,474.2 L348.8,473.5 L347.1,472.9 L345.5,472.4 L344.0,471.9 L342.6,471.4 L341.3,470.9 L340.0,470.4 L338.8,470.0 L337.7,469.6 L336.7,469.2 L335.7,468.8 L334.7,468.5 L333.8,468.1 L332.9,467.8 L332.1,467.4 L331.3,467.1 L330.5,466.8 L329.7,466.4 L328.9,466.1 L328.1,465.7 L327.3,465.4 L326.4,465.0 L325.6,464.6 L324.7,464.3 L323.7,463.8 L322.8,463.4 L321.9,463.0 L321.0,462.6 L320.1,462.2 L319.2,461.8 L318.4,461.4 L317.5,461.0 L316.6,460.6 L315.8,460.2 L314.9,459.7 L314.1,459.3 L313.2,458.9 L312.4,458.5 L311.5,458.0 L310.7,457.6 L309.8,457.2 L309.0,456.7 L308.1,456.3 L307.3,455.8 L306.4,455.4 L305.6,454.9 L304.7,454.5 L303.8,454.0 L302.9,453.5 L302.1,453.0 L301.2,452.6 L300.3,452.1 L299.4,451.6 L298.6,451.2 L297.7,450.7 L296.8,450.2 L296.0,449.8 L295.1,449.3 L294.3,448.8 L293.4,448.3 L292.5,447.9 L291.7,447.4 L290.9,446.9 L290.0,446.4 L289.2,445.9 L288.3,445.5 L287.5,445.0 L286.7,444.5 L285.9,444.0 L285.0,443.5 L284.2,443.0 L283.4,442.5 L282.6,442.0 L281.8,441.5 L281.0,441.0 L280.2,440.5 L279.4,440.0 L278.6,439.5 L277.8,439.0 L277.0,438.5 L276.2,438.0 L275.4,437.5 L274.7,437.0 L273.9,436.5 L273.2,436.0 L272.4,435.5 L271.7,435.0 L271.0,434.4 L270.2,433.9 L269.5,433.4 L268.8,432.9 L268.1,432.4 L267.4,431.9 L266.7,431.4 L266.0,430.9 L265.3,430.3 L264.6,429.8 L264.0,429.3 L263.3,428.8 L262.7,428.3 L262.1,427.7 L261.4,427.2 L260.7,426.6 L260.1,426.0 L259.4,425.4 L258.7,424.8 L258.0,424.2 L257.3,423.6 L256.6,422.9 L255.9,422.2 L255.2,421.6 L254.4,420.9 L253.7,420.2 L252.9,419.5 L252.1,418.7 L251.3,418.0 L250.5,417.3 L249.7,416.6 L248.9,415.8 L248.0,415.1 L247.2,414.3 L246.3,413.6 L245.5,412.9 L244.6,412.1 L243.7,411.4 L242.9,410.7 L242.0,410.1 L241.2,409.4 L240.4,408.8 L239.6,408.1 L238.8,407.5 L238.0,406.9 L237.2,406.3 L236.5,405.7 L235.7,405.1 L235.0,404.5 L234.3,403.9 L233.6,403.4 L232.9,402.8 L232.3,402.3 L231.6,401.7 L231.0,401.2 L230.4,400.7 L229.7,400.1 L229.2,399.6 L228.6,399.1 L227.9,398.5 L227.3,397.9 L226.6,397.3 L226.0,396.6 L225.3,396.0 L224.6,395.4 L224.0,394.7 L223.3,394.1 L222.6,393.4 L222.0,392.7 L221.3,392.1 L220.7,391.4 L220.0,390.8 L219.4,390.1 L218.8,389.5 L218.2,388.8 L217.6,388.2 L217.0,387.5 L216.4,386.9 L215.8,386.3 L215.3,385.7 L214.8,385.1 L214.3,384.5 L213.8,384.0 L213.3,383.5 L212.9,383.0 L212.5,382.5 L212.2,382.1 L211.9,381.7 L211.6,381.3 L211.3,381.0 L211.0,380.6 L210.7,380.3 L210.5,379.9 L210.2,379.5 L209.9,379.1 L209.6,378.7 L209.3,378.3 L209.0,377.8 L208.6,377.3 L208.2,376.7 L207.8,376.1 L207.4,375.5 L206.9,374.8 L206.4,374.0 L205.8,373.2 L205.3,372.4 L204.6,371.5 L204.0,370.6 L203.3,369.6 L202.6,368.5 L201.8,367.5 L201.0,366.4 L200.2,365.3 L199.4,364.1 L198.6,363.0 L197.8,361.8 L196.9,360.6 L196.1,359.4 L195.2,358.2 L194.4,357.0 L193.5,355.8 L192.7,354.5 L191.9,353.3 L191.1,352.1 L190.3,351.0 L189.5,349.8 L188.8,348.7 L188.1,347.6 L187.4,346.5 L186.8,345.5 L186.2,344.5 L185.7,343.5 L185.1,342.4 L184.5,341.4 L183.9,340.4 L183.4,339.4 L182.9,338.4 L182.4,337.4 L181.9,336.4 L181.4,335.5 L180.9,334.5 L180.4,333.6 L180.0,332.6 L179.6,331.7 L179.2,330.8 L178.8,329.8 L178.4,328.9 L178.0,328.0 L177.6,327.1 L177.2,326.1 L176.9,325.2 L176.5,324.3 L176.2,323.3 L175.9,322.4 L175.6,321.4 L175.3,320.5 L175.0,319.5 L174.7,318.5 L174.4,317.5 L174.1,316.5 L173.9,315.4 L173.6,314.4 L173.4,313.3 L173.2,312.2 L172.9,311.1 L172.7,310.0 L172.5,308.8 L172.3,307.7 L172.1,306.6 L171.9,305.5 L171.7,304.4 L171.5,303.3 L171.4,302.2 L171.2,301.1 L171.1,300.0 L170.9,298.9 L170.8,297.9 L170.6,296.9 L170.5,295.9 L170.4,295.0 L170.3,294.2 L170.2,293.3 L170.2,292.5 L170.1,291.7 L170.1,290.9 L170.0,290.1 L170.0,289.4 L170.0,288.6 L170.0,287.8 L169.9,287.0 L169.9,286.2 L169.9,285.4 L169.9,284.6 L169.9,283.7 L170.0,282.9 L170.0,282.0 L170.0,281.1 L170.0,280.2 L170.0,279.3 L170.0,278.4 L170.0,277.4 L170.0,276.4 L170.0,275.4 L170.0,274.4 L170.0,273.4 L170.0,272.4 L170.0,271.5 L170.0,270.5 L170.0,269.6 L170.0,268.6 L170.0,267.7 L170.0,266.8 L170.0,265.8 L170.0,264.9 L170.0,264.0 L170.1,263.2 L170.1,262.3 L170.1,261.4 L170.1,260.6 L170.1,259.7 L170.1,258.9 L170.2,258.0 L170.2,257.2 L170.2,256.4 L170.3,255.6 L170.3,254.8 L170.4,254.0 L170.4,253.3 L170.5,252.5 L170.5,251.7 L170.6,250.9 L170.7,250.0 L170.8,249.2 L170.8,248.3 L170.9,247.4 L171.1,246.5 L171.2,245.6 L171.3,244.7 L171.4,243.8 L171.6,242.8 L171.7,241.9 L171.8,240.9 L172.0,239.9 L172.1,238.9 L172.3,237.9 L172.4,236.9 L172.6,235.9 L172.7,234.8 L172.9,233.8 L173.0,232.7 L173.2,231.7Z" fill="#BA1A20"/>
<path d="M486.6,39.6 L485.9,39.7 L485.3,39.7 L484.7,39.8 L484.2,39.9 L483.6,39.9 L483.1,40.0 L482.5,40.0 L482.0,40.1 L481.5,40.1 L481.0,40.2 L480.4,40.3 L479.9,40.3 L479.3,40.4 L478.7,40.5 L478.1,40.5 L477.5,40.6 L476.8,40.7 L476.1,40.8 L475.3,40.9 L474.5,41.0 L473.6,41.1 L472.6,41.2 L471.6,41.3 L470.6,41.4 L469.4,41.6 L468.2,41.7 L467.0,41.9 L465.6,42.0 L464.3,42.2 L462.8,42.4 L461.3,42.5 L459.8,42.7 L458.3,42.9 L456.7,43.1 L455.1,43.3 L453.4,43.5 L451.8,43.7 L450.1,43.9 L448.4,44.1 L446.7,44.3 L445.1,44.5 L443.4,44.7 L441.7,45.0 L440.0,45.2 L438.4,45.5 L436.8,45.7 L435.2,46.0 L433.7,46.2 L432.1,46.5 L430.6,46.8 L429.1,47.0 L427.5,47.3 L426.0,47.6 L424.5,47.8 L422.9,48.1 L421.4,48.4 L419.9,48.7 L418.3,49.0 L416.8,49.3 L415.3,49.6 L413.8,49.9 L412.2,50.3 L410.7,50.6 L409.2,50.9 L407.6,51.3 L406.1,51.7 L404.5,52.0 L403.0,52.4 L401.4,52.8 L399.9,53.2 L398.3,53.7 L396.8,54.1 L395.2,54.6 L393.6,55.0 L392.0,55.5 L390.4,56.1 L388.8,56.6 L387.1,57.2 L385.5,57.7 L383.8,58.3 L382.2,58.9 L380.5,59.5 L378.9,60.1 L377.2,60.7 L375.6,61.3 L374.0,61.9 L372.4,62.5 L370.8,63.1 L369.2,63.7 L367.6,64.3 L366.1,64.9 L364.6,65.5 L363.1,66.0 L361.7,66.5 L360.3,67.1 L358.9,67.6 L357.6,68.0 L356.3,68.5 L355.0,69.0 L353.7,69.4 L352.5,69.9 L351.3,70.3 L350.2,70.7 L349.0,71.1 L347.9,71.5 L346.8,71.9 L345.7,72.3 L344.6,72.7 L343.5,73.1 L342.4,73.5 L341.3,73.9 L340.3,74.3 L339.2,74.7 L338.1,75.1 L337.1,75.5 L336.0,75.9 L334.9,76.3 L333.8,76.8 L332.7,77.2 L331.5,77.6 L330.4,78.1 L329.3,78.5 L328.1,79.0 L327.0,79.4 L325.8,79.9 L324.7,80.3 L323.6,80.8 L322.4,81.3 L321.3,81.7 L320.1,82.2 L319.0,82.6 L317.8,83.1 L316.7,83.6 L315.6,84.1 L314.4,84.5 L313.3,85.0 L312.1,85.5 L311.0,86.0 L309.8,86.5 L308.7,87.0 L307.6,87.5 L306.4,88.1 L305.3,88.6 L304.1,89.1 L303.0,89.7 L301.8,90.2 L300.7,90.8 L299.5,91.4 L298.3,92.0 L297.1,92.5 L295.9,93.1 L294.8,93.8 L293.6,94.4 L292.4,95.0 L291.2,95.6 L290.0,96.2 L288.9,96.8 L287.7,97.5 L286.5,98.1 L285.4,98.7 L284.3,99.3 L283.1,100.0 L282.0,100.6 L280.9,101.2 L279.9,101.8 L278.8,102.4 L277.8,103.0 L276.8,103.6 L275.8,104.2 L274.8,104.8 L273.9,105.3 L273.0,105.9 L272.1,106.5 L271.2,107.0 L270.4,107.5 L269.6,108.1 L268.7,108.6 L267.9,109.2 L267.1,109.7 L266.3,110.2 L265.5,110.8 L264.7,111.3 L263.9,111.9 L263.1,112.5 L262.3,113.1 L261.5,113.6 L260.6,114.3 L259.7,114.9 L258.9,115.5 L258.0,116.2 L257.0,116.8 L256.1,117.5 L255.1,118.2 L254.1,118.9 L253.1,119.7 L252.0,120.4 L251.0,121.2 L249.9,122.0 L248.8,122.8 L247.7,123.6 L246.6,124.4 L245.5,125.2 L244.3,126.1 L243.2,126.9 L242.1,127.8 L241.0,128.6 L239.8,129.5 L238.7,130.3 L237.6,131.2 L236.5,132.1 L235.4,133.0 L234.3,133.8 L233.2,134.7 L232.1,135.6 L231.0,136.4 L230.0,137.3 L229.0,138.2 L227.9,139.0 L226.9,139.9 L225.9,140.8 L224.9,141.7 L223.9,142.5 L222.9,143.4 L221.9,144.3 L220.9,145.2 L219.9,146.1 L218.9,147.0 L217.9,147.9 L216.9,148.8 L215.9,149.7 L215.0,150.6 L214.0,151.5 L213.0,152.4 L212.1,153.3 L211.2,154.2 L210.2,155.2 L209.3,156.1 L208.4,157.1 L207.5,158.0 L206.6,159.0 L205.7,159.9 L204.8,160.9 L203.9,161.9 L203.0,162.8 L202.2,163.8 L201.3,164.8 L200.5,165.8 L199.6,166.8 L198.8,167.8 L198.0,168.8 L197.2,169.8 L196.4,170.8 L195.5,171.8 L194.7,172.8 L193.9,173.8 L193.2,174.9 L192.4,175.9 L191.6,176.9 L190.8,177.9 L190.0,178.9 L189.3,179.9 L188.5,181.0 L187.7,182.0 L187.0,183.0 L186.2,184.0 L185.5,185.0 L184.7,186.1 L183.9,187.1 L183.2,188.2 L182.4,189.3 L181.7,190.3 L180.9,191.4 L180.2,192.5 L179.4,193.5 L178.7,194.6 L178.0,195.7 L177.3,196.7 L176.5,197.8 L175.8,198.9 L175.1,199.9 L174.5,200.9 L173.8,202.0 L173.1,203.0 L172.5,204.0 L171.9,205.0 L171.2,206.0 L170.6,206.9 L170.1,207.9 L169.5,208.8" fill="none" stroke="url(#gdl)" stroke-width="1.2" stroke-dasharray="4 1.9"/>
<path d="M973.2,216.8 L972.6,215.7 L971.9,214.5 L971.2,213.4 L970.5,212.2 L969.7,210.9 L969.0,209.7 L968.2,208.4 L967.3,207.1 L966.5,205.8 L965.6,204.5 L964.8,203.2 L963.9,201.9 L963.0,200.5 L962.1,199.2 L961.2,197.9 L960.3,196.5 L959.4,195.2 L958.5,193.9 L957.6,192.6 L956.7,191.3 L955.8,190.0 L954.9,188.8 L954.0,187.6 L953.1,186.3 L952.3,185.2 L951.4,184.0 L950.6,182.8 L949.7,181.6 L948.9,180.5 L948.0,179.3 L947.2,178.1 L946.3,177.0 L945.5,175.8 L944.6,174.7 L943.8,173.5 L942.9,172.4 L942.0,171.3 L941.2,170.2 L940.3,169.1 L939.4,167.9 L938.5,166.8 L937.6,165.8 L936.6,164.7 L935.7,163.6 L934.8,162.5 L933.8,161.4 L932.9,160.4 L931.9,159.3 L930.9,158.3 L929.9,157.2 L928.8,156.2 L927.8,155.2 L926.8,154.2 L925.7,153.2 L924.6,152.2 L923.6,151.2 L922.5,150.2 L921.4,149.2 L920.3,148.3 L919.2,147.3 L918.1,146.4 L917.0,145.4 L915.9,144.5 L914.8,143.6 L913.7,142.6 L912.6,141.7 L911.5,140.8 L910.4,139.9 L909.3,139.0 L908.2,138.1 L907.1,137.2 L906.0,136.3 L904.9,135.4 L903.8,134.5 L902.8,133.7 L901.7,132.8 L900.6,131.9 L899.5,131.1 L898.4,130.2 L897.4,129.4 L896.3,128.5 L895.2,127.7 L894.1,126.9 L893.0,126.1 L891.9,125.2 L890.8,124.4 L889.8,123.6 L888.7,122.8 L887.6,122.0 L886.5,121.2 L885.4,120.4 L884.3,119.6 L883.2,118.8 L882.1,118.0 L880.9,117.3 L879.8,116.5 L878.7,115.7 L877.6,114.9 L876.5,114.1 L875.3,113.4 L874.2,112.6 L873.0,111.8 L871.9,111.1 L870.8,110.3 L869.6,109.5 L868.5,108.8 L867.3,108.0 L866.2,107.3 L865.0,106.5 L863.8,105.8 L862.7,105.1 L861.5,104.4 L860.4,103.7 L859.2,102.9 L858.1,102.2 L856.9,101.6 L855.8,100.9 L854.6,100.2 L853.5,99.6 L852.3,98.9 L851.2,98.3 L850.0,97.6 L848.9,97.0 L847.7,96.4 L846.6,95.8 L845.4,95.2 L844.3,94.7 L843.1,94.1 L842.0,93.5 L840.8,93.0 L839.7,92.4 L838.5,91.9 L837.4,91.3 L836.3,90.8 L835.1,90.3 L834.0,89.8 L832.8,89.2 L831.7,88.7 L830.5,88.2 L829.4,87.7 L828.3,87.2 L827.1,86.7 L826.0,86.2 L824.8,85.7 L823.7,85.2 L822.6,84.7 L821.4,84.2 L820.3,83.8 L819.1,83.3 L818.0,82.8 L816.9,82.4 L815.7,81.9 L814.6,81.4 L813.5,81.0 L812.3,80.5 L811.2,80.1 L810.1,79.7 L808.9,79.2 L807.8,78.8 L806.6,78.3 L805.5,77.9 L804.4,77.5 L803.2,77.1 L802.1,76.6 L801.0,76.2 L799.8,75.8 L798.7,75.4 L797.5,74.9 L796.4,74.5 L795.3,74.1 L794.1,73.7 L793.0,73.3 L791.9,72.9 L790.8,72.5 L789.7,72.1 L788.5,71.6 L787.4,71.2 L786.3,70.8 L785.2,70.4 L784.0,70.0 L782.9,69.7 L781.8,69.3 L780.6,68.9 L779.5,68.5 L778.4,68.1 L777.2,67.7 L776.1,67.3 L774.9,67.0 L773.7,66.6 L772.6,66.2 L771.4,65.8 L770.2,65.5 L769.0,65.1 L767.8,64.7 L766.6,64.3 L765.4,64.0 L764.2,63.6 L763.0,63.3 L761.8,62.9 L760.6,62.6 L759.4,62.2 L758.2,61.9 L757.0,61.5 L755.7,61.2 L754.5,60.8 L753.3,60.5 L752.0,60.1 L750.7,59.8 L749.5,59.5 L748.2,59.1 L746.9,58.8 L745.5,58.4 L744.2,58.1 L742.9,57.8 L741.5,57.4 L740.1,57.1 L738.7,56.7 L737.3,56.4 L735.8,56.1 L734.3,55.7 L732.8,55.4 L731.3,55.1 L729.8,54.7 L728.2,54.4 L726.7,54.1 L725.1,53.7 L723.5,53.4 L721.9,53.1 L720.4,52.8 L718.8,52.4 L717.2,52.1 L715.6,51.8 L714.0,51.5 L712.4,51.1 L710.8,50.8 L709.3,50.5 L707.7,50.2 L706.1,49.9 L704.6,49.5 L703.1,49.2 L701.5,48.9 L700.0,48.6 L698.4,48.2 L696.8,47.9 L695.2,47.6 L693.5,47.2 L691.9,46.9 L690.3,46.5 L688.6,46.2 L687.0,45.8 L685.4,45.5 L683.8,45.2 L682.2,44.8 L680.6,44.5 L679.1,44.2 L677.6,43.9 L676.1,43.6 L674.7,43.3 L673.3,43.0 L671.9,42.8 L670.6,42.5 L669.4,42.3 L668.2,42.0 L667.0,41.8 L666.0,41.7 L664.9,41.5 L664.0,41.3 L663.1,41.2 L662.2,41.1 L661.4,41.0 L660.7,40.9 L659.9,40.8 L659.2,40.7 L658.6,40.6 L657.9,40.6 L657.3,40.5 L656.7,40.5 L656.1,40.4 L655.6,40.4 L655.0,40.3 L654.4,40.3 L653.8,40.2 L653.2,40.2 L652.6,40.1 L652.0,40.1 L651.4,40.0 L650.7,40.0 L650.0,39.9" fill="none" stroke="url(#gdl)" stroke-width="1.2" stroke-dasharray="4 1.9"/>
<path d="M162.0,229.0 L161.8,230.0 L161.5,230.9 L161.3,231.9 L161.0,232.8 L160.8,233.8 L160.5,234.8 L160.3,235.7 L160.0,236.7 L159.7,237.6 L159.5,238.6 L159.2,239.5 L159.0,240.5 L158.7,241.5 L158.5,242.4 L158.2,243.4 L158.0,244.3 L157.8,245.3 L157.6,246.2 L157.4,247.2 L157.2,248.2 L157.0,249.1 L156.8,250.1 L156.6,251.0 L156.5,252.0 L156.4,253.0 L156.2,253.9 L156.1,254.9 L156.0,255.8 L155.9,256.8 L155.9,257.8 L155.8,258.7 L155.7,259.7 L155.7,260.7 L155.6,261.6 L155.6,262.6 L155.6,263.5 L155.5,264.5 L155.5,265.5 L155.5,266.4 L155.5,267.4 L155.4,268.3 L155.4,269.3 L155.4,270.2 L155.4,271.2 L155.4,272.2 L155.3,273.1 L155.3,274.1 L155.3,275.0 L155.3,275.9 L155.2,276.9 L155.2,277.8 L155.2,278.7 L155.1,279.6 L155.1,280.5 L155.1,281.4 L155.0,282.3 L155.0,283.2 L155.0,284.1 L154.9,285.0 L154.9,285.9 L154.9,286.8 L154.9,287.7 L154.9,288.6 L154.9,289.5 L154.9,290.4 L154.9,291.4 L154.9,292.3 L155.0,293.3 L155.0,294.3 L155.1,295.3 L155.2,296.3 L155.3,297.4 L155.4,298.5 L155.5,299.6 L155.7,300.7 L155.8,301.8 L155.9,303.0 L156.1,304.2 L156.2,305.4 L156.4,306.6 L156.6,307.8 L156.8,309.0 L157.0,310.2 L157.2,311.5 L157.4,312.7 L157.6,313.9 L157.9,315.2 L158.1,316.4 L158.4,317.6 L158.6,318.9 L158.9,320.1 L159.2,321.3 L159.5,322.5 L159.8,323.7 L160.2,324.8 L160.5,326.0 L160.9,327.1 L161.2,328.3 L161.6,329.4 L162.0,330.5 L162.4,331.6 L162.8,332.7 L163.2,333.8 L163.6,334.9 L164.1,335.9 L164.5,337.0 L165.0,338.1 L165.5,339.1 L166.0,340.2 L166.5,341.3 L167.0,342.4 L167.5,343.4 L168.0,344.5 L168.6,345.6 L169.1,346.7 L169.7,347.8 L170.3,348.9 L170.9,350.0 L171.5,351.2 L172.1,352.3 L172.7,353.5 L173.4,354.6 L174.1,355.9 L174.9,357.1 L175.6,358.4 L176.4,359.6 L177.2,360.9 L178.1,362.2 L178.9,363.5 L179.7,364.8 L180.6,366.1 L181.4,367.4 L182.3,368.6 L183.1,369.9 L184.0,371.1 L184.8,372.3 L185.6,373.5 L186.4,374.7 L187.2,375.8 L187.9,376.9 L188.6,378.0 L189.3,379.0 L190.0,380.0 L190.6,380.9 L191.2,381.8 L191.7,382.6 L192.2,383.4 L192.7,384.1 L193.2,384.8 L193.6,385.4 L194.0,386.0 L194.4,386.6 L194.8,387.2 L195.1,387.8 L195.5,388.3 L195.8,388.8 L196.2,389.3 L196.5,389.8 L196.9,390.3 L197.2,390.8 L197.6,391.3 L198.0,391.8 L198.4,392.3 L198.8,392.8 L199.3,393.4 L199.8,394.0 L200.3,394.6 L200.8,395.2 L201.4,395.8 L201.9,396.5 L202.5,397.2 L203.2,397.9 L203.8,398.5 L204.4,399.2 L205.1,399.9 L205.8,400.6 L206.4,401.3 L207.1,402.1 L207.8,402.8 L208.5,403.5 L209.2,404.2 L210.0,404.9 L210.7,405.6 L211.4,406.3 L212.2,407.0 L212.9,407.7 L213.6,408.4 L214.4,409.1 L215.1,409.8 L215.8,410.5 L216.6,411.1 L217.3,411.8 L218.0,412.4 L218.8,413.1 L219.5,413.7 L220.3,414.3 L221.0,414.9 L221.8,415.5 L222.6,416.1 L223.3,416.7 L224.1,417.3 L224.9,417.9 L225.7,418.5 L226.4,419.1 L227.2,419.7 L228.0,420.3 L228.8,420.9 L229.6,421.4 L230.4,422.0 L231.1,422.6 L231.9,423.2 L232.7,423.8 L233.5,424.4 L234.3,425.0 L235.0,425.7 L235.8,426.3 L236.6,426.9 L237.3,427.6 L238.1,428.2 L238.8,428.9 L239.6,429.6 L240.3,430.2 L241.1,430.9 L241.8,431.6 L242.6,432.3 L243.3,433.0 L244.1,433.7 L244.8,434.3 L245.6,435.0 L246.3,435.7 L247.1,436.4 L247.9,437.1 L248.6,437.7 L249.4,438.4 L250.1,439.1 L250.9,439.7 L251.7,440.3 L252.4,441.0 L253.2,441.6 L254.0,442.2 L254.8,442.8 L255.6,443.4 L256.4,444.0 L257.1,444.5 L257.9,445.1 L258.7,445.7 L259.5,446.2 L260.3,446.8 L261.1,447.3 L261.9,447.9 L262.7,448.4 L263.5,448.9 L264.3,449.5 L265.1,450.0 L265.9,450.5 L266.8,451.0 L267.6,451.6 L268.4,452.1 L269.2,452.6 L270.1,453.1 L270.9,453.6 L271.7,454.2 L272.6,454.7 L273.4,455.2 L274.2,455.7 L275.1,456.2 L276.0,456.8 L276.8,457.3 L277.7,457.8 L278.5,458.3 L279.4,458.8 L280.3,459.3 L281.2,459.8 L282.0,460.3 L282.9,460.8 L283.8,461.3 L284.7,461.8 L285.6,462.3 L286.5,462.8 L287.4,463.3 L288.2,463.8 L289.1,464.3 L290.0,464.8 L290.9,465.3 L291.8,465.8 L292.7,466.2 L293.6,466.7 L294.5,467.2 L295.4,467.7 L296.3,468.1 L297.2,468.6 L298.1,469.1 L298.9,469.6 L299.8,470.0 L300.7,470.5 L301.6,470.9 L302.5,471.4 L303.3,471.9 L304.2,472.3 L305.1,472.8 L306.0,473.2 L306.9,473.7 L307.8,474.1 L308.7,474.6 L309.6,475.0 L310.6,475.5 L311.5,475.9 L312.4,476.3 L313.4,476.8 L314.4,477.2 L315.3,477.7 L316.3,478.1 L317.3,478.5 L318.2,478.9 L319.1,479.3 L320.0,479.7 L320.9,480.1 L321.7,480.5 L322.6,480.8 L323.5,481.2 L324.3,481.6 L325.2,481.9 L326.1,482.3 L327.0,482.7 L328.0,483.0 L328.9,483.4 L330.0,483.8 L331.0,484.2 L332.1,484.6 L333.3,485.1 L334.5,485.5 L335.8,486.0 L337.2,486.5 L338.6,487.0 L340.2,487.5 L341.8,488.1 L343.5,488.7 L345.3,489.3 L347.2,490.0 L349.2,490.7 L351.3,491.4 L353.4,492.1 L355.6,492.9 L357.8,493.7 L360.1,494.5 L362.5,495.3 L364.8,496.1 L367.2,496.9 L369.7,497.7 L372.1,498.5 L374.6,499.3 L377.1,500.1 L379.5,500.9 L382.0,501.7 L384.4,502.5 L386.9,503.2 L389.3,503.9 L391.7,504.6 L394.0,505.3 L396.3,505.9 L398.6,506.5 L400.8,507.1 L403.1,507.7 L405.4,508.3 L407.7,508.8 L409.9,509.4 L412.2,509.9 L414.5,510.4 L416.7,510.9 L419.0,511.4 L421.3,511.9 L423.5,512.4 L425.8,512.9 L428.1,513.3 L430.4,513.8 L432.6,514.3 L434.9,514.7 L437.2,515.1 L439.4,515.6 L441.7,516.0 L444.0,516.4 L446.3,516.8 L448.5,517.2 L450.8,517.6 L453.1,518.0 L455.3,518.4 L457.6,518.8 L459.8,519.1 L462.0,519.5 L464.3,519.8 L466.5,520.2 L468.7,520.5 L471.0,520.8 L473.2,521.2 L475.4,521.5 L477.7,521.8 L479.9,522.1 L482.1,522.4 L484.4,522.6 L486.7,522.9 L489.0,523.2 L491.3,523.5 L493.6,523.7 L495.9,524.0 L498.2,524.2 L500.6,524.4 L503.0,524.7 L505.4,524.9 L507.8,525.1 L510.3,525.3 L512.8,525.5 L515.3,525.7 L517.8,525.9 L520.3,526.1 L522.9,526.3 L525.5,526.5 L528.0,526.7 L530.6,526.8 L533.2,527.0 L535.8,527.2 L538.5,527.3 L541.1,527.4 L543.7,527.6 L546.3,527.7 L548.9,527.8 L551.5,527.9 L554.1,528.0 L556.7,528.0 L559.3,528.1 L561.9,528.1 L564.5,528.2 L567.0,528.2 L569.5,528.2 L572.1,528.2 L574.6,528.2 L577.2,528.2 L579.7,528.2 L582.3,528.1 L584.9,528.1 L587.4,528.0 L590.0,527.9 L592.5,527.8 L595.1,527.8 L597.6,527.6 L600.1,527.5 L602.7,527.4 L605.2,527.3 L607.7,527.2 L610.2,527.0 L612.7,526.9 L615.1,526.7 L617.6,526.5 L620.0,526.4 L622.5,526.2 L624.9,526.0 L627.3,525.8 L629.7,525.6 L632.0,525.4 L634.4,525.2 L636.7,524.9 L639.0,524.7 L641.3,524.5 L643.6,524.2 L645.9,523.9 L648.2,523.7 L650.4,523.4 L652.7,523.1 L654.9,522.8 L657.2,522.5 L659.4,522.2 L661.6,521.9 L663.8,521.6 L666.1,521.2 L668.3,520.9 L670.5,520.5 L672.8,520.2 L675.0,519.8 L677.3,519.5 L679.5,519.1 L681.8,518.7 L684.1,518.3 L686.3,517.9 L688.6,517.5 L690.9,517.1 L693.2,516.7 L695.4,516.3 L697.7,515.9 L700.0,515.5 L702.2,515.0 L704.5,514.6 L706.8,514.1 L709.0,513.7 L711.3,513.2 L713.6,512.7 L715.9,512.2 L718.1,511.7 L720.4,511.2 L722.7,510.7 L724.9,510.1 L727.2,509.6 L729.5,509.0 L731.8,508.4 L734.0,507.8 L736.3,507.2 L738.6,506.6 L740.9,505.9 L743.2,505.2 L745.6,504.5 L748.0,503.7 L750.3,503.0 L752.7,502.2 L755.1,501.4 L757.5,500.6 L759.9,499.8 L762.3,499.0 L764.7,498.1 L767.0,497.3 L769.4,496.5 L771.7,495.7 L774.0,494.8 L776.2,494.0 L778.4,493.2 L780.6,492.4 L782.8,491.6 L784.9,490.9 L786.9,490.1 L788.9,489.4 L790.8,488.7 L792.7,488.0 L794.5,487.3 L796.3,486.6 L798.1,486.0 L799.9,485.3 L801.6,484.6 L803.3,484.0 L805.0,483.3 L806.6,482.6 L808.2,482.0 L809.8,481.4 L811.3,480.7 L812.8,480.1 L814.3,479.5 L815.7,478.9 L817.1,478.3 L818.5,477.7 L819.8,477.2 L821.1,476.6 L822.4,476.1 L823.7,475.5 L824.9,475.0 L826.1,474.5 L827.2,474.0 L828.3,473.5 L829.3,473.1 L830.3,472.6 L831.3,472.2 L832.2,471.8 L833.0,471.4 L833.9,471.0 L834.6,470.6 L835.4,470.2 L836.1,469.9 L836.8,469.5 L837.5,469.2 L838.1,468.8 L838.8,468.5 L839.4,468.2 L840.0,467.8 L840.6,467.5 L841.2,467.2 L841.8,466.9 L842.5,466.5 L843.1,466.2 L843.7,465.9 L844.3,465.5 L845.0,465.2 L845.7,464.9 L846.3,464.5 L846.9,464.2 L847.5,463.9 L848.1,463.6 L848.7,463.3 L849.3,463.0 L849.8,462.7 L850.4,462.4 L851.0,462.1 L851.5,461.9 L852.1,461.6 L852.6,461.3 L853.2,461.0 L853.7,460.7 L854.3,460.3 L854.9,460.0 L855.5,459.7 L856.1,459.3 L856.7,459.0 L857.3,458.6 L857.9,458.2 L858.6,457.8 L859.3,457.4 L860.0,457.0 L860.7,456.5 L861.5,456.0 L862.2,455.6 L863.0,455.1 L863.8,454.6 L864.6,454.0 L865.4,453.5 L866.2,453.0 L867.0,452.4 L867.8,451.9 L868.6,451.3 L869.5,450.8 L870.3,450.2 L871.1,449.6 L872.0,449.1 L872.8,448.5 L873.6,447.9 L874.5,447.3 L875.3,446.7 L876.1,446.2 L876.9,445.6 L877.7,445.0 L878.5,444.4 L879.3,443.8 L880.1,443.2 L880.8,442.6 L881.6,442.0 L882.4,441.4 L883.2,440.8 L884.0,440.2 L884.7,439.6 L885.5,439.0 L886.3,438.3 L887.1,437.7 L887.8,437.1 L888.6,436.4 L889.4,435.8 L890.1,435.2 L890.9,434.5 L891.7,433.9 L892.4,433.3 L893.2,432.6 L894.0,432.0 L894.7,431.4 L895.5,430.8 L896.2,430.1 L897.0,429.5 L897.8,428.9 L898.5,428.3 L899.3,427.6 L900.0,427.0 L900.8,426.4 L901.5,425.8 L902.3,425.1 L903.0,424.5 L903.8,423.9 L904.6,423.3 L905.3,422.6 L906.1,422.0 L906.8,421.4 L907.5,420.8 L908.3,420.1 L909.0,419.5 L909.8,418.9 L910.5,418.3 L911.3,417.6 L912.0,417.0 L912.8,416.4 L913.5,415.8 L914.3,415.1 L915.0,414.5 L915.8,413.9 L916.5,413.2 L917.3,412.6 L918.1,411.9 L918.9,411.3 L919.6,410.6 L920.4,410.0 L921.2,409.3 L922.0,408.7 L922.8,408.0 L923.6,407.4 L924.4,406.7 L925.2,406.1 L925.9,405.4 L926.7,404.8 L927.4,404.2 L928.2,403.5 L928.9,402.9 L929.6,402.3 L930.2,401.7 L930.9,401.1 L931.5,400.5 L932.1,400.0 L932.7,399.4 L933.2,398.9 L933.8,398.3 L934.3,397.8 L934.7,397.3 L935.2,396.8 L935.6,396.3 L936.0,395.8 L936.4,395.4 L936.8,394.9 L937.2,394.5 L937.5,394.0 L937.9,393.5 L938.2,393.1 L938.5,392.7 L938.9,392.2 L939.2,391.8 L939.5,391.3 L939.8,390.9 L940.2,390.4 L940.5,390.0 L940.8,389.5 L941.2,389.1 L941.5,388.6 L941.9,388.1 L942.3,387.6 L942.6,387.1 L943.0,386.6 L943.4,386.2 L943.8,385.7 L944.1,385.2 L944.5,384.7 L944.9,384.2 L945.3,383.7 L945.6,383.2 L946.0,382.7 L946.4,382.2 L946.7,381.7 L947.1,381.2 L947.5,380.7 L947.8,380.2 L948.2,379.7 L948.5,379.2 L948.9,378.7 L949.3,378.2 L949.6,377.7 L950.0,377.2 L950.3,376.7 L950.7,376.2 L951.1,375.7 L951.4,375.2 L951.8,374.6 L952.1,374.1 L952.5,373.6 L952.9,373.1 L953.2,372.5 L953.6,372.0 L953.9,371.5 L954.3,371.0 L954.6,370.4 L955.0,369.9 L955.3,369.4 L955.7,368.8 L956.0,368.3 L956.4,367.7 L956.7,367.2 L957.1,366.7 L957.4,366.1 L957.7,365.6 L958.0,365.1 L958.4,364.6 L958.7,364.0 L959.0,363.5 L959.3,363.0 L959.6,362.5 L959.9,362.0 L960.2,361.5 L960.4,361.0 L960.7,360.6 L961.0,360.1 L961.2,359.6 L961.5,359.2 L961.7,358.7 L962.0,358.3 L962.2,357.8 L962.5,357.3 L962.7,356.8 L963.0,356.3 L963.3,355.8 L963.5,355.3 L963.8,354.7 L964.1,354.2 L964.4,353.6 L964.7,353.0 L965.0,352.4 L965.3,351.7 L965.6,351.0 L965.9,350.3 L966.3,349.5 L966.7,348.7 L967.0,347.9 L967.4,347.0 L967.8,346.2 L968.3,345.3 L968.7,344.4 L969.1,343.4 L969.5,342.5 L969.9,341.5 L970.4,340.6 L970.8,339.6 L971.2,338.7 L971.6,337.7 L972.0,336.7 L972.5,335.8 L972.8,334.8 L973.2,333.9 L973.6,333.0 L973.9,332.1 L974.3,331.3 L974.6,330.4 L974.9,329.6 L975.2,328.8 L975.5,328.0 L975.7,327.3 L976.0,326.5 L976.2,325.8 L976.4,325.0 L976.6,324.3 L976.8,323.6 L977.0,322.9 L977.2,322.2 L977.4,321.5 L977.6,320.8 L977.8,320.1 L977.9,319.5 L978.1,318.8 L978.3,318.1 L978.4,317.4 L978.6,316.8 L978.7,316.1 L978.9,315.4 L979.0,314.7 L979.2,314.0 L979.3,313.3 L979.5,312.6 L979.7,311.9 L979.8,311.2 L980.0,310.5 L980.1,309.8 L980.3,309.1 L980.4,308.3 L980.6,307.6 L980.7,306.9 L980.9,306.2 L981.0,305.5 L981.2,304.8 L981.3,304.1 L981.4,303.4 L981.5,302.7 L981.7,302.0 L981.8,301.3 L981.9,300.5 L982.0,299.8 L982.1,299.1 L982.2,298.4 L982.3,297.7 L982.4,296.9 L982.5,296.2 L982.6,295.5 L982.7,294.8 L982.8,294.0 L982.8,293.3 L982.9,292.5 L982.9,291.8 L983.0,291.1 L983.0,290.3 L983.1,289.5 L983.1,288.8 L983.2,288.0 L983.2,287.3 L983.2,286.5 L983.2,285.8 L983.3,285.0 L983.3,284.3 L983.3,283.5 L983.3,282.8 L983.3,282.0 L983.4,281.3 L983.4,280.6 L983.4,279.8 L983.4,279.1 L983.4,278.4 L983.4,277.7 L983.4,277.0 L983.4,276.3 L983.4,275.7 L983.4,275.0 L983.4,274.4 L983.5,273.8 L983.5,273.2 L983.5,272.5 L983.5,271.9 L983.5,271.3 L983.5,270.7 L983.5,270.1 L983.5,269.5 L983.4,268.9 L983.4,268.3 L983.4,267.6 L983.4,267.0 L983.3,266.3 L983.3,265.6 L983.3,265.0 L983.2,264.2 L983.1,263.5 L983.1,262.8 L983.0,262.0 L982.9,261.2 L982.8,260.4 L982.7,259.6 L982.7,258.7 L982.6,257.8 L982.5,256.9 L982.4,256.0 L982.2,255.1 L982.1,254.2 L982.0,253.3 L981.9,252.3 L981.8,251.4 L981.6,250.4 L981.5,249.5 L981.3,248.5 L981.2,247.6 L981.0,246.6 L980.8,245.6 L980.6,244.7 L980.4,243.7 L980.2,242.8 L980.0,241.9 L979.7,240.9 L979.5,240.0 L979.2,239.1 L979.0,238.2 L978.7,237.2 L978.4,236.3 L978.1,235.4 L977.7,234.5 L977.4,233.6 L977.0,232.7 L976.7,231.8 L976.3,230.8 L975.9,229.9 L975.6,229.0 L975.2,228.1 L974.8,227.2 L974.4,226.2 L974.0,225.3 L973.6,224.4 L973.2,223.5 L972.9,222.6 L972.5,221.7 L972.1,220.8 L971.7,219.8 L971.4,218.9 L971.0,218.0" fill="none" stroke="#fff" stroke-opacity="0.95" stroke-width="1.2" stroke-dasharray="4 1.9"/>
<circle cx="157.5" cy="230.7" r="46.5" fill="#BA1A20"/>
<circle cx="240.0" cy="422.6" r="46.5" fill="#BA1A20"/>
<circle cx="570.4" cy="526.7" r="46.5" fill="#BA1A20"/>
<circle cx="891.5" cy="422.6" r="46.5" fill="#BA1A20"/>
<circle cx="983.6" cy="230.7" r="46.5" fill="#BA1A20"/>
<g fill="none" stroke="#fff" stroke-width="2.9" stroke-linecap="round" stroke-linejoin="miter">
<path d="M135.4,211.3 H170.8 V237.4 H150.5 L145.4,242.2 L140.3,237.4 H135.4 Z"/>
<path d="M144.3,219.9 H157.3 M144.3,228.8 H151.2"/>
<path d="M172.2,228.5 H179.3 V246.1 H175.1 L170.5,249.6 L165.9,246.1 H155.3 V238.8" stroke-linecap="butt"/>
</g>
<g fill="none" stroke="#fff" stroke-width="2.8" stroke-linecap="round" stroke-linejoin="round">
<rect x="218.2" y="416.8" width="44.4" height="11.8" rx="2.2" transform="rotate(-45 240.4 422.7)"/>
<g transform="rotate(45 240.4 422.7)">
<path d="M227.6,416.6 H220.6 Q218.6,416.6 218.6,418.6 V426.8 Q218.6,428.8 220.6,428.8 H227.6"/>
<path d="M253.2,416.6 H260.2 Q262.2,416.6 262.2,418.6 V426.8 Q262.2,428.8 260.2,428.8 H253.2"/>
</g></g>
<circle cx="235.8" cy="427.1" r="1.9" fill="#fff"/>
<circle cx="240.1" cy="422.8" r="1.9" fill="#fff"/>
<circle cx="244.1" cy="418.9" r="1.9" fill="#fff"/>
<g fill="none" stroke="#fff" stroke-width="2.9" stroke-linecap="round" stroke-linejoin="miter">
<circle cx="570.5" cy="518.8" r="8.9"/>
<path d="M557.2,518.7 H583.8 M570.5,506 V509"/>
<path d="M551.6,548.2 A18.95,18.2 0 0 1 589.5,548.2 Z" stroke-linejoin="round"/>
<path d="M563.9,539 V542.6 M577.1,539 V542.6"/>
</g>
<g fill="none" stroke="#fff" stroke-width="2.9" stroke-linecap="round" stroke-linejoin="miter">
<rect x="869.6" y="407" width="23.9" height="8.6"/>
<rect x="869.6" y="428.9" width="23.9" height="9.1"/>
<path d="M903,407.3 L911.2,415.4 M911.2,407.3 L903,415.4" stroke-width="3.2"/>
<path d="M902,434.2 L906.1,438.2 L913.3,429.8" stroke-linejoin="miter" stroke-width="3.2"/>
</g>
<g fill="none" stroke="#fff" stroke-width="2.9" stroke-linecap="round" stroke-linejoin="miter">
<path d="M963.2,225.5 L975.5,213.4 L984.3,222 L993.5,213.4 L1006.3,225.5 L985.2,247.1 Z"/>
<path d="M984.6,221.4 L976,229 L982.8,233.6 L989,225 L996.8,232.3" stroke-linecap="butt" stroke-linejoin="round"/>
<path d="M993.6,238.4 L990.4,235.6 M989.4,242.7 L986.4,239.8" stroke-width="2.7"/>
</g>
<path d="M637.4,167.5 L570.9,264.8 L501.3,169.6 Z" fill="#BA1A20"/>
<circle cx="568.6" cy="120.4" r="80.9" fill="#fff" stroke="#BA1A20" stroke-width="5"/>
<text x="569" y="97.6" textLength="70.6" font-size="20" font-weight="bold" fill="#333" text-anchor="middle" lengthAdjust="spacingAndGlyphs">POWER</text>
<text x="568.8" y="127.5" textLength="141.1" font-size="20" font-weight="bold" fill="#333" text-anchor="middle" lengthAdjust="spacingAndGlyphs">DISTRIBUTION</text>
<text x="570.6" y="157.1" textLength="102.7" font-size="20" font-weight="bold" fill="#333" text-anchor="middle" lengthAdjust="spacingAndGlyphs">ROOM EPC</text>
<g><path d="M69.5,158.5 L76.2,169.9 L79.0,158.5 Z" fill="#f4f4f4"/><path d="M76.2,169.9 L79.0,159.5" stroke="#777" stroke-width="0.8" fill="none"/><rect x="49.8" y="106.0" width="207.1" height="53.3" rx="5.5" fill="#7d7d7d"/><rect x="49.2" y="106.9" width="206.79999999999998" height="53.0" rx="5.2" fill="#f4f4f4"/><text x="152.3" y="136.4" font-size="17.4" fill="#333" text-anchor="middle" textLength="176.1" lengthAdjust="spacingAndGlyphs">Electricity consultation</text></g>
<g><path d="M133.4,350.4 L140.1,361.8 L142.9,350.4 Z" fill="#f4f4f4"/><path d="M140.1,361.8 L142.9,351.4" stroke="#777" stroke-width="0.8" fill="none"/><rect x="113.7" y="297.9" width="207.1" height="53.3" rx="5.5" fill="#7d7d7d"/><rect x="113.1" y="298.8" width="206.79999999999998" height="53.0" rx="5.2" fill="#f4f4f4"/><text x="216.6" y="329.0" font-size="17.4" fill="#333" text-anchor="middle" textLength="196" lengthAdjust="spacingAndGlyphs">Power distribution design</text></g>
<g><path d="M495.5,442.6 L502.2,454.0 L505.0,442.6 Z" fill="#f4f4f4"/><path d="M502.2,454.0 L505.0,443.6" stroke="#777" stroke-width="0.8" fill="none"/><rect x="475.8" y="390.1" width="207.1" height="53.3" rx="5.5" fill="#7d7d7d"/><rect x="475.2" y="391.0" width="206.79999999999998" height="53.0" rx="5.2" fill="#f4f4f4"/><text x="578.8" y="414.1" font-size="17.4" fill="#333" text-anchor="middle" textLength="118.6" lengthAdjust="spacingAndGlyphs">Installation and</text><text x="580.3" y="432" font-size="17.4" fill="#333" text-anchor="middle" textLength="96.5" lengthAdjust="spacingAndGlyphs">construction</text></g>
<g><path d="M785.5,350.4 L792.2,361.8 L795.0,350.4 Z" fill="#f4f4f4"/><path d="M792.2,361.8 L795.0,351.4" stroke="#777" stroke-width="0.8" fill="none"/><rect x="765.8" y="297.9" width="207.1" height="53.3" rx="5.5" fill="#7d7d7d"/><rect x="765.2" y="298.8" width="206.79999999999998" height="53.0" rx="5.2" fill="#f4f4f4"/><text x="869.4" y="330.0" font-size="17.4" fill="#333" text-anchor="middle" textLength="172.1" lengthAdjust="spacingAndGlyphs">Testing and inspection</text></g>
<g><path d="M900.5,158.4 L907.2,169.8 L910.0,158.4 Z" fill="#f4f4f4"/><path d="M907.2,169.8 L910.0,159.4" stroke="#777" stroke-width="0.8" fill="none"/><rect x="880.8" y="105.9" width="207.1" height="53.3" rx="5.5" fill="#7d7d7d"/><rect x="880.2" y="106.8" width="206.79999999999998" height="53.0" rx="5.2" fill="#f4f4f4"/><text x="983.8" y="138.0" font-size="17.4" fill="#333" text-anchor="middle" textLength="185" lengthAdjust="spacingAndGlyphs">Acceptance and delivery</text></g>
</svg>
</body></html>
